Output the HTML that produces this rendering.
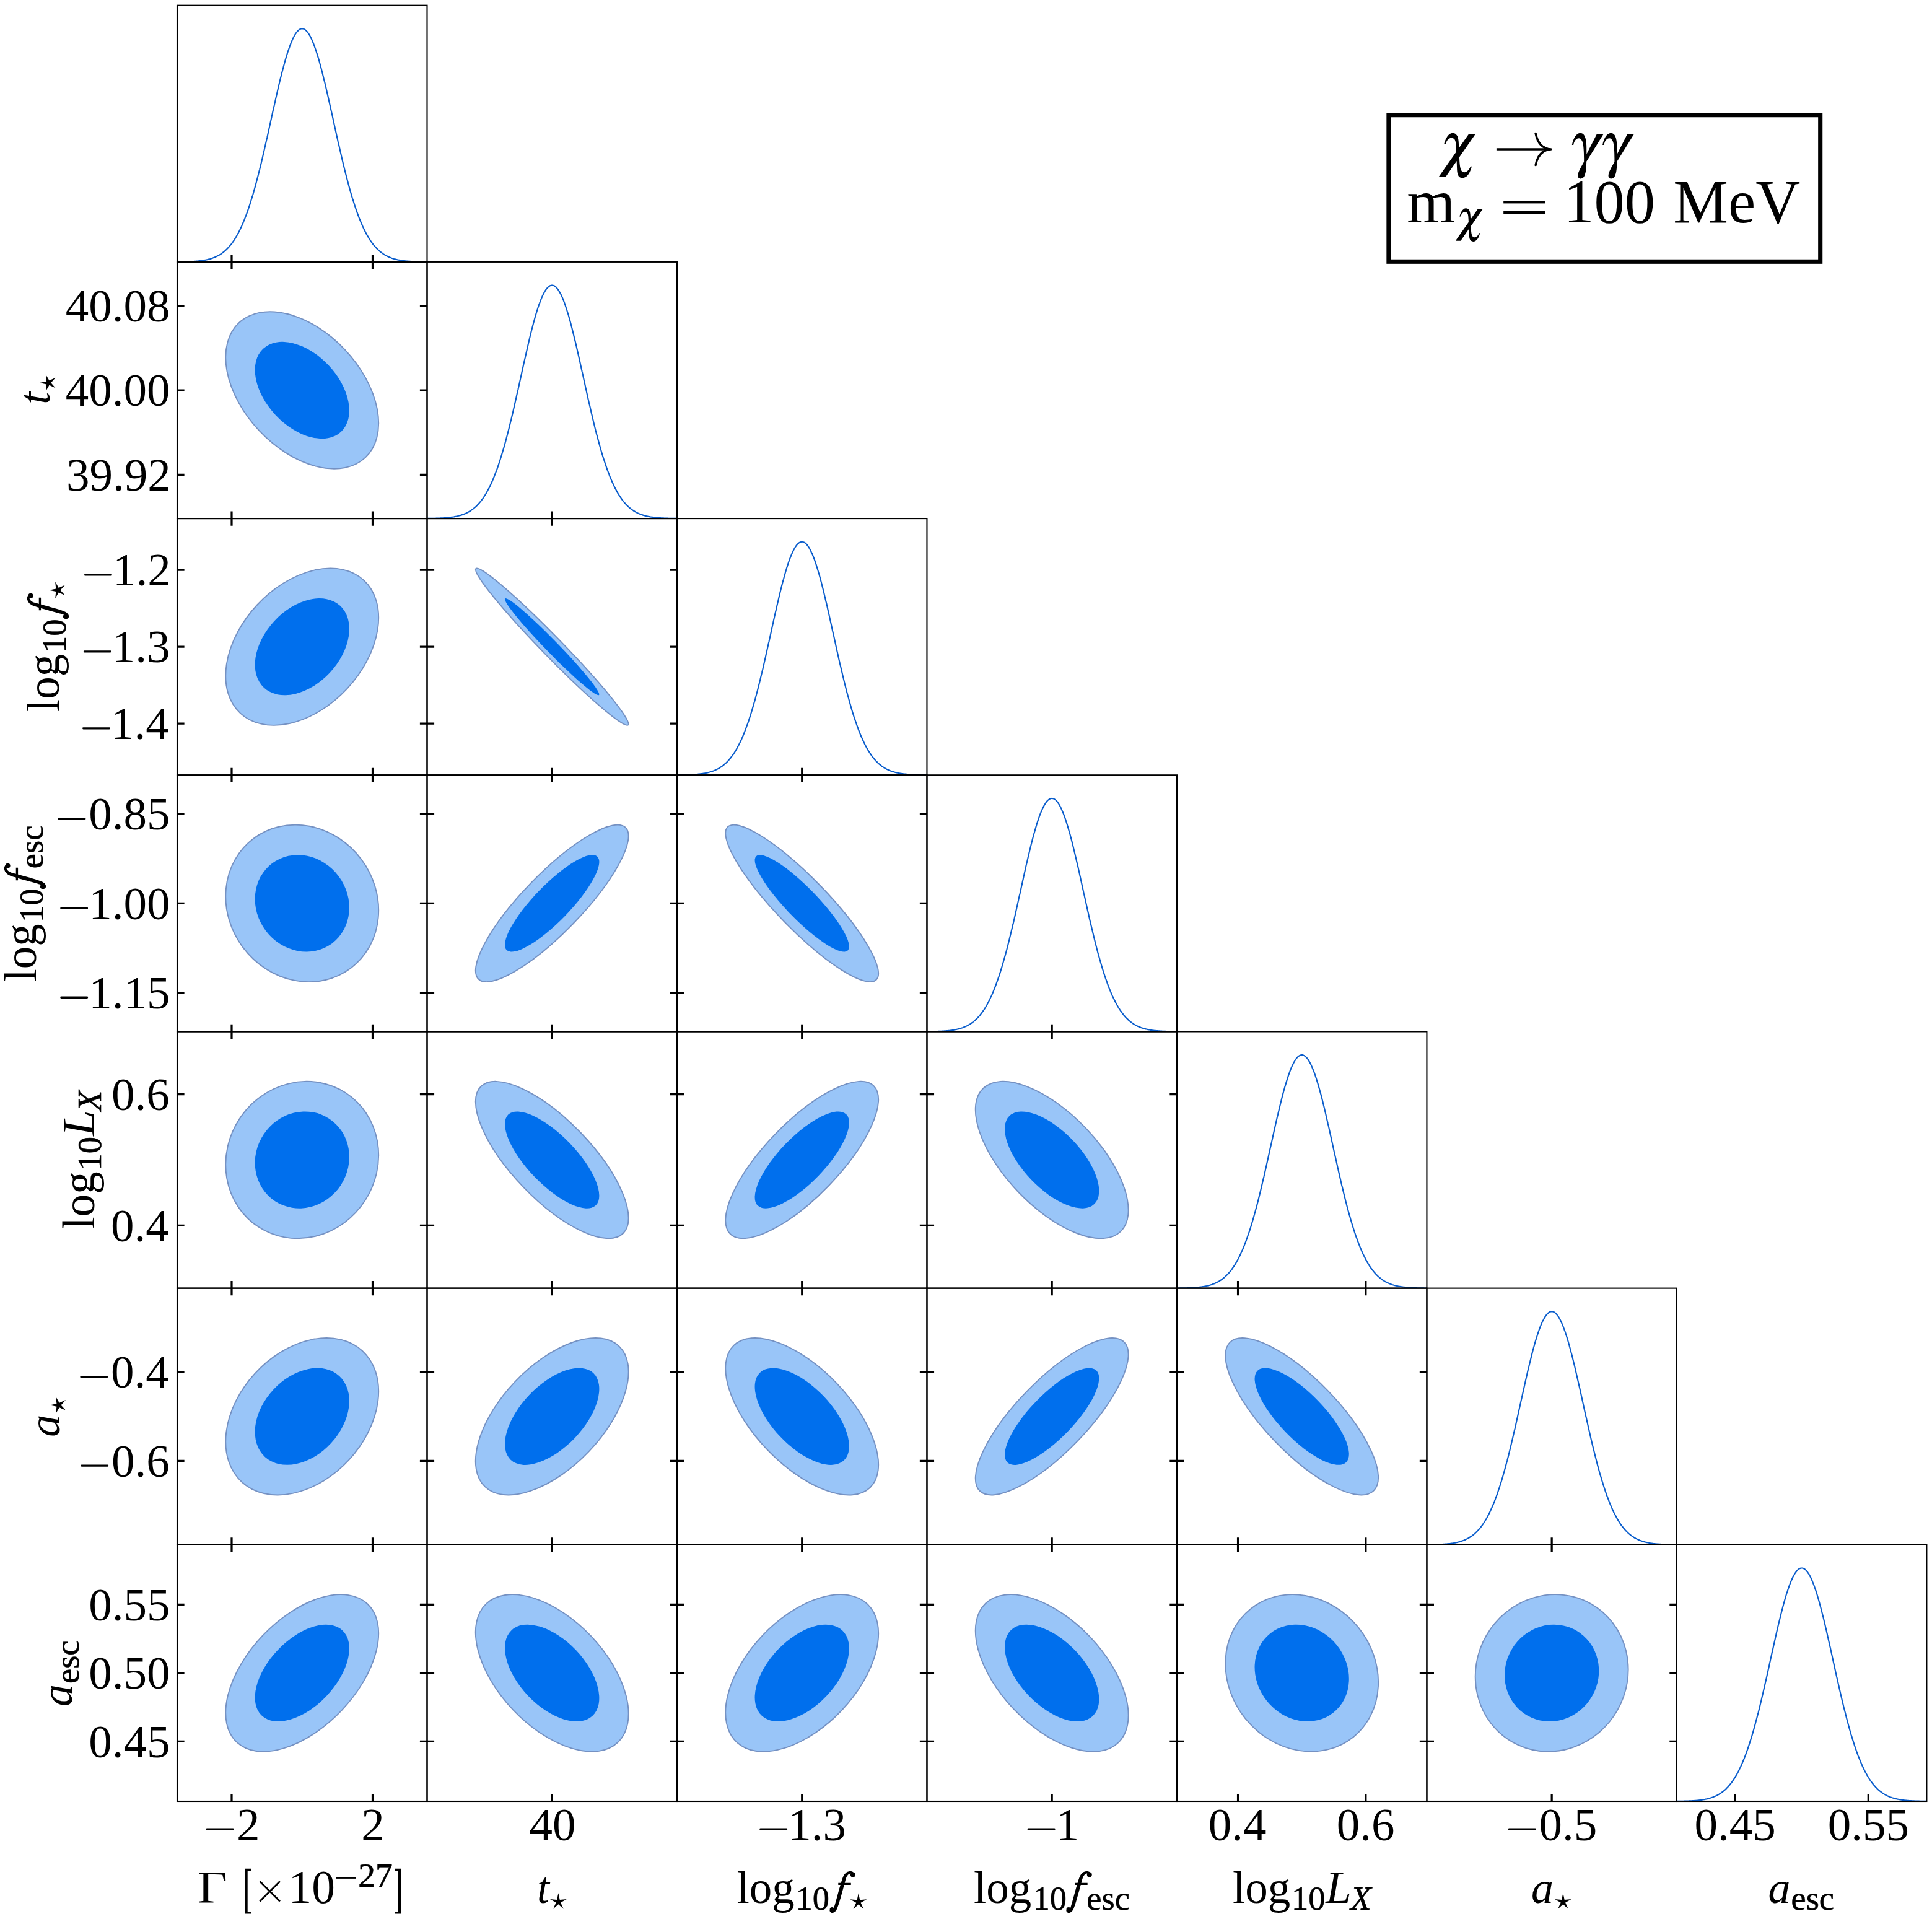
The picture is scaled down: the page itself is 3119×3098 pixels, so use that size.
<!DOCTYPE html><html><head><meta charset="utf-8"><style>html,body{margin:0;padding:0;background:#fff;width:3119px;height:3098px;overflow:hidden}svg{display:block}text{font-family:"Liberation Serif",serif;fill:#000}</style></head><body>
<svg width="3119" height="3098" viewBox="0 0 3119 3098">
<rect width="3119" height="3098" fill="#fff"/>
<clipPath id="c0"><rect x="286.00" y="8.70" width="403.49" height="414.19"/></clipPath>
<polyline clip-path="url(#c0)" fill="none" stroke="#0a5dcc" stroke-width="2.15" stroke-linejoin="round" points="286.0,422.76 286.8,422.75 287.6,422.74 288.4,422.73 289.2,422.72 290.0,422.71 290.8,422.70 291.6,422.69 292.5,422.68 293.3,422.66 294.1,422.65 294.9,422.63 295.7,422.62 296.5,422.60 297.3,422.58 298.1,422.57 298.9,422.55 299.7,422.52 300.5,422.50 301.3,422.48 302.1,422.45 302.9,422.43 303.8,422.40 304.6,422.37 305.4,422.34 306.2,422.31 307.0,422.27 307.8,422.24 308.6,422.20 309.4,422.16 310.2,422.12 311.0,422.07 311.8,422.03 312.6,421.98 313.4,421.93 314.2,421.87 315.1,421.81 315.9,421.75 316.7,421.69 317.5,421.62 318.3,421.55 319.1,421.48 319.9,421.40 320.7,421.32 321.5,421.24 322.3,421.15 323.1,421.06 323.9,420.96 324.7,420.86 325.5,420.75 326.3,420.64 327.2,420.52 328.0,420.39 328.8,420.26 329.6,420.13 330.4,419.99 331.2,419.84 332.0,419.69 332.8,419.52 333.6,419.36 334.4,419.18 335.2,418.99 336.0,418.80 336.8,418.60 337.6,418.39 338.5,418.17 339.3,417.95 340.1,417.71 340.9,417.46 341.7,417.20 342.5,416.93 343.3,416.65 344.1,416.36 344.9,416.06 345.7,415.74 346.5,415.41 347.3,415.07 348.1,414.72 348.9,414.35 349.8,413.97 350.6,413.57 351.4,413.16 352.2,412.73 353.0,412.28 353.8,411.82 354.6,411.34 355.4,410.84 356.2,410.33 357.0,409.80 357.8,409.24 358.6,408.67 359.4,408.08 360.2,407.47 361.0,406.83 361.9,406.18 362.7,405.50 363.5,404.80 364.3,404.07 365.1,403.32 365.9,402.55 366.7,401.75 367.5,400.92 368.3,400.07 369.1,399.20 369.9,398.29 370.7,397.36 371.5,396.39 372.3,395.40 373.2,394.38 374.0,393.33 374.8,392.25 375.6,391.13 376.4,389.99 377.2,388.81 378.0,387.60 378.8,386.35 379.6,385.07 380.4,383.76 381.2,382.41 382.0,381.02 382.8,379.60 383.6,378.14 384.5,376.65 385.3,375.11 386.1,373.54 386.9,371.93 387.7,370.28 388.5,368.59 389.3,366.86 390.1,365.09 390.9,363.28 391.7,361.43 392.5,359.53 393.3,357.60 394.1,355.62 394.9,353.60 395.7,351.54 396.6,349.44 397.4,347.29 398.2,345.10 399.0,342.87 399.8,340.60 400.6,338.28 401.4,335.92 402.2,333.51 403.0,331.07 403.8,328.58 404.6,326.05 405.4,323.47 406.2,320.85 407.0,318.20 407.9,315.49 408.7,312.75 409.5,309.97 410.3,307.14 411.1,304.28 411.9,301.38 412.7,298.43 413.5,295.45 414.3,292.43 415.1,289.37 415.9,286.28 416.7,283.15 417.5,279.98 418.3,276.78 419.2,273.55 420.0,270.28 420.8,266.99 421.6,263.66 422.4,260.30 423.2,256.92 424.0,253.50 424.8,250.07 425.6,246.60 426.4,243.12 427.2,239.61 428.0,236.08 428.8,232.53 429.6,228.96 430.4,225.38 431.3,221.79 432.1,218.18 432.9,214.55 433.7,210.92 434.5,207.28 435.3,203.64 436.1,199.99 436.9,196.33 437.7,192.68 438.5,189.03 439.3,185.38 440.1,181.73 440.9,178.09 441.7,174.46 442.6,170.84 443.4,167.24 444.2,163.65 445.0,160.07 445.8,156.51 446.6,152.98 447.4,149.47 448.2,145.98 449.0,142.52 449.8,139.09 450.6,135.69 451.4,132.33 452.2,129.00 453.0,125.71 453.9,122.46 454.7,119.25 455.5,116.08 456.3,112.97 457.1,109.90 457.9,106.88 458.7,103.91 459.5,101.00 460.3,98.14 461.1,95.35 461.9,92.61 462.7,89.93 463.5,87.32 464.3,84.78 465.1,82.30 466.0,79.90 466.8,77.56 467.6,75.30 468.4,73.12 469.2,71.00 470.0,68.97 470.8,67.02 471.6,65.15 472.4,63.36 473.2,61.65 474.0,60.03 474.8,58.49 475.6,57.04 476.4,55.68 477.3,54.41 478.1,53.23 478.9,52.14 479.7,51.14 480.5,50.24 481.3,49.43 482.1,48.71 482.9,48.08 483.7,47.56 484.5,47.12 485.3,46.79 486.1,46.55 486.9,46.40 487.7,46.35 488.5,46.40 489.4,46.55 490.2,46.79 491.0,47.12 491.8,47.56 492.6,48.08 493.4,48.71 494.2,49.43 495.0,50.24 495.8,51.14 496.6,52.14 497.4,53.23 498.2,54.41 499.0,55.68 499.8,57.04 500.7,58.49 501.5,60.03 502.3,61.65 503.1,63.36 503.9,65.15 504.7,67.02 505.5,68.97 506.3,71.00 507.1,73.12 507.9,75.30 508.7,77.56 509.5,79.90 510.3,82.30 511.1,84.78 512.0,87.32 512.8,89.93 513.6,92.61 514.4,95.35 515.2,98.14 516.0,101.00 516.8,103.91 517.6,106.88 518.4,109.90 519.2,112.97 520.0,116.08 520.8,119.25 521.6,122.46 522.4,125.71 523.2,129.00 524.1,132.33 524.9,135.69 525.7,139.09 526.5,142.52 527.3,145.98 528.1,149.47 528.9,152.98 529.7,156.51 530.5,160.07 531.3,163.65 532.1,167.24 532.9,170.84 533.7,174.46 534.5,178.09 535.4,181.73 536.2,185.38 537.0,189.03 537.8,192.68 538.6,196.33 539.4,199.99 540.2,203.64 541.0,207.28 541.8,210.92 542.6,214.55 543.4,218.18 544.2,221.79 545.0,225.38 545.8,228.96 546.7,232.53 547.5,236.08 548.3,239.61 549.1,243.12 549.9,246.60 550.7,250.07 551.5,253.50 552.3,256.92 553.1,260.30 553.9,263.66 554.7,266.99 555.5,270.28 556.3,273.55 557.1,276.78 557.9,279.98 558.8,283.15 559.6,286.28 560.4,289.37 561.2,292.43 562.0,295.45 562.8,298.43 563.6,301.38 564.4,304.28 565.2,307.14 566.0,309.97 566.8,312.75 567.6,315.49 568.4,318.20 569.2,320.85 570.1,323.47 570.9,326.05 571.7,328.58 572.5,331.07 573.3,333.51 574.1,335.92 574.9,338.28 575.7,340.60 576.5,342.87 577.3,345.10 578.1,347.29 578.9,349.44 579.7,351.54 580.5,353.60 581.4,355.62 582.2,357.60 583.0,359.53 583.8,361.43 584.6,363.28 585.4,365.09 586.2,366.86 587.0,368.59 587.8,370.28 588.6,371.93 589.4,373.54 590.2,375.11 591.0,376.65 591.8,378.14 592.6,379.60 593.5,381.02 594.3,382.41 595.1,383.76 595.9,385.07 596.7,386.35 597.5,387.60 598.3,388.81 599.1,389.99 599.9,391.13 600.7,392.25 601.5,393.33 602.3,394.38 603.1,395.40 603.9,396.39 604.8,397.36 605.6,398.29 606.4,399.20 607.2,400.07 608.0,400.92 608.8,401.75 609.6,402.55 610.4,403.32 611.2,404.07 612.0,404.80 612.8,405.50 613.6,406.18 614.4,406.83 615.2,407.47 616.1,408.08 616.9,408.67 617.7,409.24 618.5,409.80 619.3,410.33 620.1,410.84 620.9,411.34 621.7,411.82 622.5,412.28 623.3,412.73 624.1,413.16 624.9,413.57 625.7,413.97 626.5,414.35 627.3,414.72 628.2,415.07 629.0,415.41 629.8,415.74 630.6,416.06 631.4,416.36 632.2,416.65 633.0,416.93 633.8,417.20 634.6,417.46 635.4,417.71 636.2,417.95 637.0,418.17 637.8,418.39 638.6,418.60 639.5,418.80 640.3,418.99 641.1,419.18 641.9,419.36 642.7,419.52 643.5,419.69 644.3,419.84 645.1,419.99 645.9,420.13 646.7,420.26 647.5,420.39 648.3,420.52 649.1,420.64 649.9,420.75 650.8,420.86 651.6,420.96 652.4,421.06 653.2,421.15 654.0,421.24 654.8,421.32 655.6,421.40 656.4,421.48 657.2,421.55 658.0,421.62 658.8,421.69 659.6,421.75 660.4,421.81 661.2,421.87 662.0,421.93 662.9,421.98 663.7,422.03 664.5,422.07 665.3,422.12 666.1,422.16 666.9,422.20 667.7,422.24 668.5,422.27 669.3,422.31 670.1,422.34 670.9,422.37 671.7,422.40 672.5,422.43 673.3,422.45 674.2,422.48 675.0,422.50 675.8,422.52 676.6,422.55 677.4,422.57 678.2,422.58 679.0,422.60 679.8,422.62 680.6,422.63 681.4,422.65 682.2,422.66 683.0,422.68 683.8,422.69 684.6,422.70 685.5,422.71 686.3,422.72 687.1,422.73 687.9,422.74 688.7,422.75 689.5,422.76"/>
<ellipse cx="487.74" cy="629.98" rx="149.11" ry="95.22" transform="rotate(46.783 487.74 629.98)" fill="#99C5F8" stroke="#7591c2" stroke-width="1.9"/>
<ellipse cx="487.74" cy="629.98" rx="91.96" ry="58.72" transform="rotate(46.783 487.74 629.98)" fill="#006FED"/>
<clipPath id="c1"><rect x="689.49" y="422.89" width="403.49" height="414.19"/></clipPath>
<polyline clip-path="url(#c1)" fill="none" stroke="#0a5dcc" stroke-width="2.15" stroke-linejoin="round" points="689.5,836.95 690.3,836.94 691.1,836.93 691.9,836.92 692.7,836.91 693.5,836.90 694.3,836.89 695.1,836.87 695.9,836.86 696.7,836.85 697.6,836.83 698.4,836.82 699.2,836.80 700.0,836.79 700.8,836.77 701.6,836.75 702.4,836.73 703.2,836.71 704.0,836.69 704.8,836.66 705.6,836.64 706.4,836.61 707.2,836.59 708.0,836.56 708.9,836.53 709.7,836.49 710.5,836.46 711.3,836.42 712.1,836.39 712.9,836.35 713.7,836.30 714.5,836.26 715.3,836.21 716.1,836.16 716.9,836.11 717.7,836.06 718.5,836.00 719.3,835.94 720.2,835.88 721.0,835.81 721.8,835.74 722.6,835.67 723.4,835.59 724.2,835.51 725.0,835.42 725.8,835.34 726.6,835.24 727.4,835.14 728.2,835.04 729.0,834.93 729.8,834.82 730.6,834.70 731.4,834.58 732.3,834.45 733.1,834.32 733.9,834.17 734.7,834.03 735.5,833.87 736.3,833.71 737.1,833.54 737.9,833.36 738.7,833.18 739.5,832.99 740.3,832.79 741.1,832.58 741.9,832.36 742.7,832.13 743.6,831.89 744.4,831.65 745.2,831.39 746.0,831.12 746.8,830.84 747.6,830.55 748.4,830.24 749.2,829.93 750.0,829.60 750.8,829.26 751.6,828.90 752.4,828.54 753.2,828.15 754.0,827.75 754.9,827.34 755.7,826.91 756.5,826.47 757.3,826.01 758.1,825.53 758.9,825.03 759.7,824.52 760.5,823.98 761.3,823.43 762.1,822.86 762.9,822.27 763.7,821.65 764.5,821.02 765.3,820.36 766.1,819.68 767.0,818.98 767.8,818.26 768.6,817.51 769.4,816.73 770.2,815.93 771.0,815.11 771.8,814.26 772.6,813.38 773.4,812.48 774.2,811.54 775.0,810.58 775.8,809.59 776.6,808.57 777.4,807.52 778.3,806.43 779.1,805.32 779.9,804.17 780.7,803.00 781.5,801.78 782.3,800.54 783.1,799.26 783.9,797.94 784.7,796.59 785.5,795.21 786.3,793.79 787.1,792.33 787.9,790.83 788.7,789.30 789.6,787.72 790.4,786.11 791.2,784.46 792.0,782.77 792.8,781.04 793.6,779.27 794.4,777.46 795.2,775.61 796.0,773.72 796.8,771.78 797.6,769.81 798.4,767.79 799.2,765.73 800.0,763.62 800.8,761.48 801.7,759.29 802.5,757.06 803.3,754.78 804.1,752.46 804.9,750.10 805.7,747.70 806.5,745.25 807.3,742.76 808.1,740.23 808.9,737.66 809.7,735.04 810.5,732.38 811.3,729.68 812.1,726.94 813.0,724.15 813.8,721.33 814.6,718.47 815.4,715.56 816.2,712.62 817.0,709.64 817.8,706.62 818.6,703.56 819.4,700.46 820.2,697.33 821.0,694.17 821.8,690.97 822.6,687.73 823.4,684.47 824.2,681.17 825.1,677.84 825.9,674.49 826.7,671.10 827.5,667.69 828.3,664.25 829.1,660.79 829.9,657.30 830.7,653.79 831.5,650.26 832.3,646.72 833.1,643.15 833.9,639.57 834.7,635.97 835.5,632.36 836.4,628.74 837.2,625.11 838.0,621.47 838.8,617.82 839.6,614.17 840.4,610.52 841.2,606.87 842.0,603.21 842.8,599.56 843.6,595.92 844.4,592.28 845.2,588.65 846.0,585.03 846.8,581.42 847.7,577.83 848.5,574.26 849.3,570.70 850.1,567.16 850.9,563.65 851.7,560.17 852.5,556.71 853.3,553.28 854.1,549.88 854.9,546.51 855.7,543.18 856.5,539.89 857.3,536.64 858.1,533.43 858.9,530.27 859.8,527.15 860.6,524.08 861.4,521.06 862.2,518.10 863.0,515.18 863.8,512.33 864.6,509.53 865.4,506.79 866.2,504.12 867.0,501.51 867.8,498.97 868.6,496.49 869.4,494.08 870.2,491.75 871.1,489.49 871.9,487.30 872.7,485.19 873.5,483.16 874.3,481.20 875.1,479.33 875.9,477.54 876.7,475.84 877.5,474.21 878.3,472.68 879.1,471.23 879.9,469.87 880.7,468.60 881.5,467.42 882.4,466.33 883.2,465.33 884.0,464.42 884.8,463.61 885.6,462.89 886.4,462.27 887.2,461.74 888.0,461.31 888.8,460.97 889.6,460.73 890.4,460.59 891.2,460.54 892.0,460.59 892.8,460.73 893.6,460.97 894.5,461.31 895.3,461.74 896.1,462.27 896.9,462.89 897.7,463.61 898.5,464.42 899.3,465.33 900.1,466.33 900.9,467.42 901.7,468.60 902.5,469.87 903.3,471.23 904.1,472.68 904.9,474.21 905.8,475.84 906.6,477.54 907.4,479.33 908.2,481.20 909.0,483.16 909.8,485.19 910.6,487.30 911.4,489.49 912.2,491.75 913.0,494.08 913.8,496.49 914.6,498.97 915.4,501.51 916.2,504.12 917.1,506.79 917.9,509.53 918.7,512.33 919.5,515.18 920.3,518.10 921.1,521.06 921.9,524.08 922.7,527.15 923.5,530.27 924.3,533.43 925.1,536.64 925.9,539.89 926.7,543.18 927.5,546.51 928.3,549.88 929.2,553.28 930.0,556.71 930.8,560.17 931.6,563.65 932.4,567.16 933.2,570.70 934.0,574.26 934.8,577.83 935.6,581.42 936.4,585.03 937.2,588.65 938.0,592.28 938.8,595.92 939.6,599.56 940.5,603.21 941.3,606.87 942.1,610.52 942.9,614.17 943.7,617.82 944.5,621.47 945.3,625.11 946.1,628.74 946.9,632.36 947.7,635.97 948.5,639.57 949.3,643.15 950.1,646.72 950.9,650.26 951.8,653.79 952.6,657.30 953.4,660.79 954.2,664.25 955.0,667.69 955.8,671.10 956.6,674.49 957.4,677.84 958.2,681.17 959.0,684.47 959.8,687.73 960.6,690.97 961.4,694.17 962.2,697.33 963.0,700.46 963.9,703.56 964.7,706.62 965.5,709.64 966.3,712.62 967.1,715.56 967.9,718.47 968.7,721.33 969.5,724.15 970.3,726.94 971.1,729.68 971.9,732.38 972.7,735.04 973.5,737.66 974.3,740.23 975.2,742.76 976.0,745.25 976.8,747.70 977.6,750.10 978.4,752.46 979.2,754.78 980.0,757.06 980.8,759.29 981.6,761.48 982.4,763.62 983.2,765.73 984.0,767.79 984.8,769.81 985.6,771.78 986.5,773.72 987.3,775.61 988.1,777.46 988.9,779.27 989.7,781.04 990.5,782.77 991.3,784.46 992.1,786.11 992.9,787.72 993.7,789.30 994.5,790.83 995.3,792.33 996.1,793.79 996.9,795.21 997.7,796.59 998.6,797.94 999.4,799.26 1000.2,800.54 1001.0,801.78 1001.8,803.00 1002.6,804.17 1003.4,805.32 1004.2,806.43 1005.0,807.52 1005.8,808.57 1006.6,809.59 1007.4,810.58 1008.2,811.54 1009.0,812.48 1009.9,813.38 1010.7,814.26 1011.5,815.11 1012.3,815.93 1013.1,816.73 1013.9,817.51 1014.7,818.26 1015.5,818.98 1016.3,819.68 1017.1,820.36 1017.9,821.02 1018.7,821.65 1019.5,822.27 1020.3,822.86 1021.2,823.43 1022.0,823.98 1022.8,824.52 1023.6,825.03 1024.4,825.53 1025.2,826.01 1026.0,826.47 1026.8,826.91 1027.6,827.34 1028.4,827.75 1029.2,828.15 1030.0,828.54 1030.8,828.90 1031.6,829.26 1032.4,829.60 1033.3,829.93 1034.1,830.24 1034.9,830.55 1035.7,830.84 1036.5,831.12 1037.3,831.39 1038.1,831.65 1038.9,831.89 1039.7,832.13 1040.5,832.36 1041.3,832.58 1042.1,832.79 1042.9,832.99 1043.7,833.18 1044.6,833.36 1045.4,833.54 1046.2,833.71 1047.0,833.87 1047.8,834.03 1048.6,834.17 1049.4,834.32 1050.2,834.45 1051.0,834.58 1051.8,834.70 1052.6,834.82 1053.4,834.93 1054.2,835.04 1055.0,835.14 1055.9,835.24 1056.7,835.34 1057.5,835.42 1058.3,835.51 1059.1,835.59 1059.9,835.67 1060.7,835.74 1061.5,835.81 1062.3,835.88 1063.1,835.94 1063.9,836.00 1064.7,836.06 1065.5,836.11 1066.3,836.16 1067.1,836.21 1068.0,836.26 1068.8,836.30 1069.6,836.35 1070.4,836.39 1071.2,836.42 1072.0,836.46 1072.8,836.49 1073.6,836.53 1074.4,836.56 1075.2,836.59 1076.0,836.61 1076.8,836.64 1077.6,836.66 1078.4,836.69 1079.3,836.71 1080.1,836.73 1080.9,836.75 1081.7,836.77 1082.5,836.79 1083.3,836.80 1084.1,836.82 1084.9,836.83 1085.7,836.85 1086.5,836.86 1087.3,836.87 1088.1,836.89 1088.9,836.90 1089.7,836.91 1090.6,836.92 1091.4,836.93 1092.2,836.94 1093.0,836.95"/>
<ellipse cx="487.74" cy="1044.16" rx="146.47" ry="99.23" transform="rotate(132.977 487.74 1044.16)" fill="#99C5F8" stroke="#7591c2" stroke-width="1.9"/>
<ellipse cx="487.74" cy="1044.16" rx="90.33" ry="61.20" transform="rotate(132.977 487.74 1044.16)" fill="#006FED"/>
<ellipse cx="891.23" cy="1044.16" rx="176.19" ry="16.06" transform="rotate(45.762 891.23 1044.16)" fill="#99C5F8" stroke="#7591c2" stroke-width="1.9"/>
<ellipse cx="891.23" cy="1044.16" rx="108.66" ry="9.91" transform="rotate(45.762 891.23 1044.16)" fill="#006FED"/>
<clipPath id="c2"><rect x="1092.97" y="837.07" width="403.49" height="414.19"/></clipPath>
<polyline clip-path="url(#c2)" fill="none" stroke="#0a5dcc" stroke-width="2.15" stroke-linejoin="round" points="1093.0,1251.13 1093.8,1251.12 1094.6,1251.11 1095.4,1251.10 1096.2,1251.09 1097.0,1251.08 1097.8,1251.07 1098.6,1251.06 1099.4,1251.05 1100.2,1251.03 1101.0,1251.02 1101.8,1251.01 1102.7,1250.99 1103.5,1250.97 1104.3,1250.96 1105.1,1250.94 1105.9,1250.92 1106.7,1250.90 1107.5,1250.87 1108.3,1250.85 1109.1,1250.83 1109.9,1250.80 1110.7,1250.77 1111.5,1250.74 1112.3,1250.71 1113.1,1250.68 1114.0,1250.65 1114.8,1250.61 1115.6,1250.57 1116.4,1250.53 1117.2,1250.49 1118.0,1250.44 1118.8,1250.40 1119.6,1250.35 1120.4,1250.30 1121.2,1250.24 1122.0,1250.19 1122.8,1250.13 1123.6,1250.06 1124.4,1250.00 1125.3,1249.93 1126.1,1249.85 1126.9,1249.78 1127.7,1249.69 1128.5,1249.61 1129.3,1249.52 1130.1,1249.43 1130.9,1249.33 1131.7,1249.23 1132.5,1249.12 1133.3,1249.01 1134.1,1248.89 1134.9,1248.77 1135.7,1248.64 1136.5,1248.50 1137.4,1248.36 1138.2,1248.21 1139.0,1248.06 1139.8,1247.90 1140.6,1247.73 1141.4,1247.55 1142.2,1247.37 1143.0,1247.17 1143.8,1246.97 1144.6,1246.76 1145.4,1246.54 1146.2,1246.32 1147.0,1246.08 1147.8,1245.83 1148.7,1245.57 1149.5,1245.30 1150.3,1245.02 1151.1,1244.73 1151.9,1244.43 1152.7,1244.11 1153.5,1243.79 1154.3,1243.45 1155.1,1243.09 1155.9,1242.72 1156.7,1242.34 1157.5,1241.94 1158.3,1241.53 1159.1,1241.10 1160.0,1240.65 1160.8,1240.19 1161.6,1239.71 1162.4,1239.22 1163.2,1238.70 1164.0,1238.17 1164.8,1237.62 1165.6,1237.04 1166.4,1236.45 1167.2,1235.84 1168.0,1235.20 1168.8,1234.55 1169.6,1233.87 1170.4,1233.17 1171.2,1232.44 1172.1,1231.69 1172.9,1230.92 1173.7,1230.12 1174.5,1229.30 1175.3,1228.45 1176.1,1227.57 1176.9,1226.66 1177.7,1225.73 1178.5,1224.77 1179.3,1223.78 1180.1,1222.75 1180.9,1221.70 1181.7,1220.62 1182.5,1219.51 1183.4,1218.36 1184.2,1217.18 1185.0,1215.97 1185.8,1214.72 1186.6,1213.44 1187.4,1212.13 1188.2,1210.78 1189.0,1209.39 1189.8,1207.97 1190.6,1206.51 1191.4,1205.02 1192.2,1203.48 1193.0,1201.91 1193.8,1200.30 1194.6,1198.65 1195.5,1196.96 1196.3,1195.23 1197.1,1193.46 1197.9,1191.65 1198.7,1189.80 1199.5,1187.90 1200.3,1185.97 1201.1,1183.99 1201.9,1181.97 1202.7,1179.91 1203.5,1177.81 1204.3,1175.66 1205.1,1173.47 1205.9,1171.24 1206.8,1168.97 1207.6,1166.65 1208.4,1164.29 1209.2,1161.89 1210.0,1159.44 1210.8,1156.95 1211.6,1154.42 1212.4,1151.84 1213.2,1149.23 1214.0,1146.57 1214.8,1143.87 1215.6,1141.12 1216.4,1138.34 1217.2,1135.52 1218.1,1132.65 1218.9,1129.75 1219.7,1126.80 1220.5,1123.82 1221.3,1120.80 1222.1,1117.74 1222.9,1114.65 1223.7,1111.52 1224.5,1108.35 1225.3,1105.15 1226.1,1101.92 1226.9,1098.65 1227.7,1095.36 1228.5,1092.03 1229.3,1088.67 1230.2,1085.29 1231.0,1081.88 1231.8,1078.44 1232.6,1074.97 1233.4,1071.49 1234.2,1067.98 1235.0,1064.45 1235.8,1060.90 1236.6,1057.34 1237.4,1053.75 1238.2,1050.16 1239.0,1046.55 1239.8,1042.93 1240.6,1039.29 1241.5,1035.65 1242.3,1032.01 1243.1,1028.36 1243.9,1024.71 1244.7,1021.05 1245.5,1017.40 1246.3,1013.75 1247.1,1010.10 1247.9,1006.46 1248.7,1002.83 1249.5,999.22 1250.3,995.61 1251.1,992.02 1251.9,988.44 1252.8,984.89 1253.6,981.35 1254.4,977.84 1255.2,974.35 1256.0,970.89 1256.8,967.46 1257.6,964.06 1258.4,960.70 1259.2,957.37 1260.0,954.08 1260.8,950.83 1261.6,947.62 1262.4,944.45 1263.2,941.34 1264.0,938.27 1264.9,935.25 1265.7,932.28 1266.5,929.37 1267.3,926.51 1268.1,923.72 1268.9,920.98 1269.7,918.31 1270.5,915.70 1271.3,913.15 1272.1,910.68 1272.9,908.27 1273.7,905.94 1274.5,903.67 1275.3,901.49 1276.2,899.38 1277.0,897.34 1277.8,895.39 1278.6,893.52 1279.4,891.73 1280.2,890.02 1281.0,888.40 1281.8,886.86 1282.6,885.41 1283.4,884.05 1284.2,882.78 1285.0,881.60 1285.8,880.51 1286.6,879.51 1287.5,878.61 1288.3,877.80 1289.1,877.08 1289.9,876.46 1290.7,875.93 1291.5,875.50 1292.3,875.16 1293.1,874.92 1293.9,874.77 1294.7,874.72 1295.5,874.77 1296.3,874.92 1297.1,875.16 1297.9,875.50 1298.7,875.93 1299.6,876.46 1300.4,877.08 1301.2,877.80 1302.0,878.61 1302.8,879.51 1303.6,880.51 1304.4,881.60 1305.2,882.78 1306.0,884.05 1306.8,885.41 1307.6,886.86 1308.4,888.40 1309.2,890.02 1310.0,891.73 1310.9,893.52 1311.7,895.39 1312.5,897.34 1313.3,899.38 1314.1,901.49 1314.9,903.67 1315.7,905.94 1316.5,908.27 1317.3,910.68 1318.1,913.15 1318.9,915.70 1319.7,918.31 1320.5,920.98 1321.3,923.72 1322.2,926.51 1323.0,929.37 1323.8,932.28 1324.6,935.25 1325.4,938.27 1326.2,941.34 1327.0,944.45 1327.8,947.62 1328.6,950.83 1329.4,954.08 1330.2,957.37 1331.0,960.70 1331.8,964.06 1332.6,967.46 1333.4,970.89 1334.3,974.35 1335.1,977.84 1335.9,981.35 1336.7,984.89 1337.5,988.44 1338.3,992.02 1339.1,995.61 1339.9,999.22 1340.7,1002.83 1341.5,1006.46 1342.3,1010.10 1343.1,1013.75 1343.9,1017.40 1344.7,1021.05 1345.6,1024.71 1346.4,1028.36 1347.2,1032.01 1348.0,1035.65 1348.8,1039.29 1349.6,1042.93 1350.4,1046.55 1351.2,1050.16 1352.0,1053.75 1352.8,1057.34 1353.6,1060.90 1354.4,1064.45 1355.2,1067.98 1356.0,1071.49 1356.9,1074.97 1357.7,1078.44 1358.5,1081.88 1359.3,1085.29 1360.1,1088.67 1360.9,1092.03 1361.7,1095.36 1362.5,1098.65 1363.3,1101.92 1364.1,1105.15 1364.9,1108.35 1365.7,1111.52 1366.5,1114.65 1367.3,1117.74 1368.1,1120.80 1369.0,1123.82 1369.8,1126.80 1370.6,1129.75 1371.4,1132.65 1372.2,1135.52 1373.0,1138.34 1373.8,1141.12 1374.6,1143.87 1375.4,1146.57 1376.2,1149.23 1377.0,1151.84 1377.8,1154.42 1378.6,1156.95 1379.4,1159.44 1380.3,1161.89 1381.1,1164.29 1381.9,1166.65 1382.7,1168.97 1383.5,1171.24 1384.3,1173.47 1385.1,1175.66 1385.9,1177.81 1386.7,1179.91 1387.5,1181.97 1388.3,1183.99 1389.1,1185.97 1389.9,1187.90 1390.7,1189.80 1391.6,1191.65 1392.4,1193.46 1393.2,1195.23 1394.0,1196.96 1394.8,1198.65 1395.6,1200.30 1396.4,1201.91 1397.2,1203.48 1398.0,1205.02 1398.8,1206.51 1399.6,1207.97 1400.4,1209.39 1401.2,1210.78 1402.0,1212.13 1402.8,1213.44 1403.7,1214.72 1404.5,1215.97 1405.3,1217.18 1406.1,1218.36 1406.9,1219.51 1407.7,1220.62 1408.5,1221.70 1409.3,1222.75 1410.1,1223.78 1410.9,1224.77 1411.7,1225.73 1412.5,1226.66 1413.3,1227.57 1414.1,1228.45 1415.0,1229.30 1415.8,1230.12 1416.6,1230.92 1417.4,1231.69 1418.2,1232.44 1419.0,1233.17 1419.8,1233.87 1420.6,1234.55 1421.4,1235.20 1422.2,1235.84 1423.0,1236.45 1423.8,1237.04 1424.6,1237.62 1425.4,1238.17 1426.3,1238.70 1427.1,1239.22 1427.9,1239.71 1428.7,1240.19 1429.5,1240.65 1430.3,1241.10 1431.1,1241.53 1431.9,1241.94 1432.7,1242.34 1433.5,1242.72 1434.3,1243.09 1435.1,1243.45 1435.9,1243.79 1436.7,1244.11 1437.5,1244.43 1438.4,1244.73 1439.2,1245.02 1440.0,1245.30 1440.8,1245.57 1441.6,1245.83 1442.4,1246.08 1443.2,1246.32 1444.0,1246.54 1444.8,1246.76 1445.6,1246.97 1446.4,1247.17 1447.2,1247.37 1448.0,1247.55 1448.8,1247.73 1449.7,1247.90 1450.5,1248.06 1451.3,1248.21 1452.1,1248.36 1452.9,1248.50 1453.7,1248.64 1454.5,1248.77 1455.3,1248.89 1456.1,1249.01 1456.9,1249.12 1457.7,1249.23 1458.5,1249.33 1459.3,1249.43 1460.1,1249.52 1461.0,1249.61 1461.8,1249.69 1462.6,1249.78 1463.4,1249.85 1464.2,1249.93 1465.0,1250.00 1465.8,1250.06 1466.6,1250.13 1467.4,1250.19 1468.2,1250.24 1469.0,1250.30 1469.8,1250.35 1470.6,1250.40 1471.4,1250.44 1472.2,1250.49 1473.1,1250.53 1473.9,1250.57 1474.7,1250.61 1475.5,1250.65 1476.3,1250.68 1477.1,1250.71 1477.9,1250.74 1478.7,1250.77 1479.5,1250.80 1480.3,1250.83 1481.1,1250.85 1481.9,1250.87 1482.7,1250.90 1483.5,1250.92 1484.4,1250.94 1485.2,1250.96 1486.0,1250.97 1486.8,1250.99 1487.6,1251.01 1488.4,1251.02 1489.2,1251.03 1490.0,1251.05 1490.8,1251.06 1491.6,1251.07 1492.4,1251.08 1493.2,1251.09 1494.0,1251.10 1494.8,1251.11 1495.7,1251.12 1496.5,1251.13"/>
<ellipse cx="487.74" cy="1458.35" rx="130.83" ry="119.10" transform="rotate(53.108 487.74 1458.35)" fill="#99C5F8" stroke="#7591c2" stroke-width="1.9"/>
<ellipse cx="487.74" cy="1458.35" rx="80.69" ry="73.45" transform="rotate(53.108 487.74 1458.35)" fill="#006FED"/>
<ellipse cx="891.23" cy="1458.35" rx="170.48" ry="47.29" transform="rotate(134.125 891.23 1458.35)" fill="#99C5F8" stroke="#7591c2" stroke-width="1.9"/>
<ellipse cx="891.23" cy="1458.35" rx="105.14" ry="29.17" transform="rotate(134.125 891.23 1458.35)" fill="#006FED"/>
<ellipse cx="1294.71" cy="1458.35" rx="172.08" ry="41.10" transform="rotate(45.840 1294.71 1458.35)" fill="#99C5F8" stroke="#7591c2" stroke-width="1.9"/>
<ellipse cx="1294.71" cy="1458.35" rx="106.13" ry="25.35" transform="rotate(45.840 1294.71 1458.35)" fill="#006FED"/>
<clipPath id="c3"><rect x="1496.46" y="1251.26" width="403.49" height="414.19"/></clipPath>
<polyline clip-path="url(#c3)" fill="none" stroke="#0a5dcc" stroke-width="2.15" stroke-linejoin="round" points="1496.5,1665.32 1497.3,1665.31 1498.1,1665.30 1498.9,1665.29 1499.7,1665.28 1500.5,1665.27 1501.3,1665.26 1502.1,1665.25 1502.9,1665.23 1503.7,1665.22 1504.5,1665.21 1505.3,1665.19 1506.1,1665.18 1506.9,1665.16 1507.8,1665.14 1508.6,1665.12 1509.4,1665.10 1510.2,1665.08 1511.0,1665.06 1511.8,1665.04 1512.6,1665.01 1513.4,1664.99 1514.2,1664.96 1515.0,1664.93 1515.8,1664.90 1516.6,1664.87 1517.4,1664.83 1518.2,1664.80 1519.1,1664.76 1519.9,1664.72 1520.7,1664.68 1521.5,1664.63 1522.3,1664.58 1523.1,1664.53 1523.9,1664.48 1524.7,1664.43 1525.5,1664.37 1526.3,1664.31 1527.1,1664.25 1527.9,1664.18 1528.7,1664.11 1529.5,1664.04 1530.3,1663.96 1531.2,1663.88 1532.0,1663.80 1532.8,1663.71 1533.6,1663.61 1534.4,1663.52 1535.2,1663.41 1536.0,1663.31 1536.8,1663.19 1537.6,1663.07 1538.4,1662.95 1539.2,1662.82 1540.0,1662.69 1540.8,1662.55 1541.6,1662.40 1542.5,1662.24 1543.3,1662.08 1544.1,1661.91 1544.9,1661.74 1545.7,1661.55 1546.5,1661.36 1547.3,1661.16 1548.1,1660.95 1548.9,1660.73 1549.7,1660.50 1550.5,1660.26 1551.3,1660.02 1552.1,1659.76 1552.9,1659.49 1553.8,1659.21 1554.6,1658.92 1555.4,1658.62 1556.2,1658.30 1557.0,1657.97 1557.8,1657.63 1558.6,1657.28 1559.4,1656.91 1560.2,1656.52 1561.0,1656.13 1561.8,1655.71 1562.6,1655.28 1563.4,1654.84 1564.2,1654.38 1565.0,1653.90 1565.9,1653.40 1566.7,1652.89 1567.5,1652.35 1568.3,1651.80 1569.1,1651.23 1569.9,1650.64 1570.7,1650.02 1571.5,1649.39 1572.3,1648.73 1573.1,1648.05 1573.9,1647.35 1574.7,1646.63 1575.5,1645.88 1576.3,1645.11 1577.2,1644.31 1578.0,1643.48 1578.8,1642.63 1579.6,1641.75 1580.4,1640.85 1581.2,1639.91 1582.0,1638.95 1582.8,1637.96 1583.6,1636.94 1584.4,1635.89 1585.2,1634.81 1586.0,1633.69 1586.8,1632.55 1587.6,1631.37 1588.5,1630.16 1589.3,1628.91 1590.1,1627.63 1590.9,1626.32 1591.7,1624.97 1592.5,1623.58 1593.3,1622.16 1594.1,1620.70 1594.9,1619.20 1595.7,1617.67 1596.5,1616.10 1597.3,1614.48 1598.1,1612.83 1598.9,1611.14 1599.7,1609.41 1600.6,1607.64 1601.4,1605.83 1602.2,1603.98 1603.0,1602.09 1603.8,1600.15 1604.6,1598.18 1605.4,1596.16 1606.2,1594.10 1607.0,1592.00 1607.8,1589.85 1608.6,1587.66 1609.4,1585.43 1610.2,1583.15 1611.0,1580.84 1611.9,1578.48 1612.7,1576.07 1613.5,1573.63 1614.3,1571.14 1615.1,1568.60 1615.9,1566.03 1616.7,1563.41 1617.5,1560.75 1618.3,1558.05 1619.1,1555.31 1619.9,1552.53 1620.7,1549.70 1621.5,1546.84 1622.3,1543.93 1623.2,1540.99 1624.0,1538.01 1624.8,1534.99 1625.6,1531.93 1626.4,1528.83 1627.2,1525.70 1628.0,1522.54 1628.8,1519.34 1629.6,1516.11 1630.4,1512.84 1631.2,1509.54 1632.0,1506.22 1632.8,1502.86 1633.6,1499.47 1634.4,1496.06 1635.3,1492.62 1636.1,1489.16 1636.9,1485.67 1637.7,1482.16 1638.5,1478.64 1639.3,1475.09 1640.1,1471.52 1640.9,1467.94 1641.7,1464.34 1642.5,1460.73 1643.3,1457.11 1644.1,1453.48 1644.9,1449.84 1645.7,1446.19 1646.6,1442.54 1647.4,1438.89 1648.2,1435.24 1649.0,1431.58 1649.8,1427.93 1650.6,1424.29 1651.4,1420.65 1652.2,1417.02 1653.0,1413.40 1653.8,1409.79 1654.6,1406.20 1655.4,1402.63 1656.2,1399.07 1657.0,1395.54 1657.9,1392.02 1658.7,1388.54 1659.5,1385.08 1660.3,1381.65 1661.1,1378.25 1661.9,1374.88 1662.7,1371.56 1663.5,1368.26 1664.3,1365.01 1665.1,1361.80 1665.9,1358.64 1666.7,1355.52 1667.5,1352.45 1668.3,1349.43 1669.1,1346.47 1670.0,1343.55 1670.8,1340.70 1671.6,1337.90 1672.4,1335.17 1673.2,1332.49 1674.0,1329.88 1674.8,1327.34 1675.6,1324.86 1676.4,1322.46 1677.2,1320.12 1678.0,1317.86 1678.8,1315.67 1679.6,1313.56 1680.4,1311.53 1681.3,1309.58 1682.1,1307.70 1682.9,1305.91 1683.7,1304.21 1684.5,1302.58 1685.3,1301.05 1686.1,1299.60 1686.9,1298.24 1687.7,1296.97 1688.5,1295.79 1689.3,1294.70 1690.1,1293.70 1690.9,1292.79 1691.7,1291.98 1692.6,1291.26 1693.4,1290.64 1694.2,1290.11 1695.0,1289.68 1695.8,1289.34 1696.6,1289.10 1697.4,1288.96 1698.2,1288.91 1699.0,1288.96 1699.8,1289.10 1700.6,1289.34 1701.4,1289.68 1702.2,1290.11 1703.0,1290.64 1703.8,1291.26 1704.7,1291.98 1705.5,1292.79 1706.3,1293.70 1707.1,1294.70 1707.9,1295.79 1708.7,1296.97 1709.5,1298.24 1710.3,1299.60 1711.1,1301.05 1711.9,1302.58 1712.7,1304.21 1713.5,1305.91 1714.3,1307.70 1715.1,1309.58 1716.0,1311.53 1716.8,1313.56 1717.6,1315.67 1718.4,1317.86 1719.2,1320.12 1720.0,1322.46 1720.8,1324.86 1721.6,1327.34 1722.4,1329.88 1723.2,1332.49 1724.0,1335.17 1724.8,1337.90 1725.6,1340.70 1726.4,1343.55 1727.3,1346.47 1728.1,1349.43 1728.9,1352.45 1729.7,1355.52 1730.5,1358.64 1731.3,1361.80 1732.1,1365.01 1732.9,1368.26 1733.7,1371.56 1734.5,1374.88 1735.3,1378.25 1736.1,1381.65 1736.9,1385.08 1737.7,1388.54 1738.5,1392.02 1739.4,1395.54 1740.2,1399.07 1741.0,1402.63 1741.8,1406.20 1742.6,1409.79 1743.4,1413.40 1744.2,1417.02 1745.0,1420.65 1745.8,1424.29 1746.6,1427.93 1747.4,1431.58 1748.2,1435.24 1749.0,1438.89 1749.8,1442.54 1750.7,1446.19 1751.5,1449.84 1752.3,1453.48 1753.1,1457.11 1753.9,1460.73 1754.7,1464.34 1755.5,1467.94 1756.3,1471.52 1757.1,1475.09 1757.9,1478.64 1758.7,1482.16 1759.5,1485.67 1760.3,1489.16 1761.1,1492.62 1762.0,1496.06 1762.8,1499.47 1763.6,1502.86 1764.4,1506.22 1765.2,1509.54 1766.0,1512.84 1766.8,1516.11 1767.6,1519.34 1768.4,1522.54 1769.2,1525.70 1770.0,1528.83 1770.8,1531.93 1771.6,1534.99 1772.4,1538.01 1773.2,1540.99 1774.1,1543.93 1774.9,1546.84 1775.7,1549.70 1776.5,1552.53 1777.3,1555.31 1778.1,1558.05 1778.9,1560.75 1779.7,1563.41 1780.5,1566.03 1781.3,1568.60 1782.1,1571.14 1782.9,1573.63 1783.7,1576.07 1784.5,1578.48 1785.4,1580.84 1786.2,1583.15 1787.0,1585.43 1787.8,1587.66 1788.6,1589.85 1789.4,1592.00 1790.2,1594.10 1791.0,1596.16 1791.8,1598.18 1792.6,1600.15 1793.4,1602.09 1794.2,1603.98 1795.0,1605.83 1795.8,1607.64 1796.7,1609.41 1797.5,1611.14 1798.3,1612.83 1799.1,1614.48 1799.9,1616.10 1800.7,1617.67 1801.5,1619.20 1802.3,1620.70 1803.1,1622.16 1803.9,1623.58 1804.7,1624.97 1805.5,1626.32 1806.3,1627.63 1807.1,1628.91 1807.9,1630.16 1808.8,1631.37 1809.6,1632.55 1810.4,1633.69 1811.2,1634.81 1812.0,1635.89 1812.8,1636.94 1813.6,1637.96 1814.4,1638.95 1815.2,1639.91 1816.0,1640.85 1816.8,1641.75 1817.6,1642.63 1818.4,1643.48 1819.2,1644.31 1820.1,1645.11 1820.9,1645.88 1821.7,1646.63 1822.5,1647.35 1823.3,1648.05 1824.1,1648.73 1824.9,1649.39 1825.7,1650.02 1826.5,1650.64 1827.3,1651.23 1828.1,1651.80 1828.9,1652.35 1829.7,1652.89 1830.5,1653.40 1831.4,1653.90 1832.2,1654.38 1833.0,1654.84 1833.8,1655.28 1834.6,1655.71 1835.4,1656.13 1836.2,1656.52 1837.0,1656.91 1837.8,1657.28 1838.6,1657.63 1839.4,1657.97 1840.2,1658.30 1841.0,1658.62 1841.8,1658.92 1842.6,1659.21 1843.5,1659.49 1844.3,1659.76 1845.1,1660.02 1845.9,1660.26 1846.7,1660.50 1847.5,1660.73 1848.3,1660.95 1849.1,1661.16 1849.9,1661.36 1850.7,1661.55 1851.5,1661.74 1852.3,1661.91 1853.1,1662.08 1853.9,1662.24 1854.8,1662.40 1855.6,1662.55 1856.4,1662.69 1857.2,1662.82 1858.0,1662.95 1858.8,1663.07 1859.6,1663.19 1860.4,1663.31 1861.2,1663.41 1862.0,1663.52 1862.8,1663.61 1863.6,1663.71 1864.4,1663.80 1865.2,1663.88 1866.1,1663.96 1866.9,1664.04 1867.7,1664.11 1868.5,1664.18 1869.3,1664.25 1870.1,1664.31 1870.9,1664.37 1871.7,1664.43 1872.5,1664.48 1873.3,1664.53 1874.1,1664.58 1874.9,1664.63 1875.7,1664.68 1876.5,1664.72 1877.3,1664.76 1878.2,1664.80 1879.0,1664.83 1879.8,1664.87 1880.6,1664.90 1881.4,1664.93 1882.2,1664.96 1883.0,1664.99 1883.8,1665.01 1884.6,1665.04 1885.4,1665.06 1886.2,1665.08 1887.0,1665.10 1887.8,1665.12 1888.6,1665.14 1889.5,1665.16 1890.3,1665.18 1891.1,1665.19 1891.9,1665.21 1892.7,1665.22 1893.5,1665.23 1894.3,1665.25 1895.1,1665.26 1895.9,1665.27 1896.7,1665.28 1897.5,1665.29 1898.3,1665.30 1899.1,1665.31 1899.9,1665.32"/>
<ellipse cx="487.74" cy="1872.54" rx="129.13" ry="120.94" transform="rotate(123.215 487.74 1872.54)" fill="#99C5F8" stroke="#7591c2" stroke-width="1.9"/>
<ellipse cx="487.74" cy="1872.54" rx="79.64" ry="74.59" transform="rotate(123.215 487.74 1872.54)" fill="#006FED"/>
<ellipse cx="891.23" cy="1872.54" rx="165.03" ry="63.76" transform="rotate(46.013 891.23 1872.54)" fill="#99C5F8" stroke="#7591c2" stroke-width="1.9"/>
<ellipse cx="891.23" cy="1872.54" rx="101.78" ry="39.32" transform="rotate(46.013 891.23 1872.54)" fill="#006FED"/>
<ellipse cx="1294.71" cy="1872.54" rx="166.45" ry="59.97" transform="rotate(134.026 1294.71 1872.54)" fill="#99C5F8" stroke="#7591c2" stroke-width="1.9"/>
<ellipse cx="1294.71" cy="1872.54" rx="102.65" ry="36.99" transform="rotate(134.026 1294.71 1872.54)" fill="#006FED"/>
<ellipse cx="1698.20" cy="1872.54" rx="160.22" ry="75.03" transform="rotate(46.171 1698.20 1872.54)" fill="#99C5F8" stroke="#7591c2" stroke-width="1.9"/>
<ellipse cx="1698.20" cy="1872.54" rx="98.81" ry="46.27" transform="rotate(46.171 1698.20 1872.54)" fill="#006FED"/>
<clipPath id="c4"><rect x="1899.94" y="1665.44" width="403.49" height="414.19"/></clipPath>
<polyline clip-path="url(#c4)" fill="none" stroke="#0a5dcc" stroke-width="2.15" stroke-linejoin="round" points="1899.9,2079.50 1900.7,2079.49 1901.6,2079.49 1902.4,2079.48 1903.2,2079.47 1904.0,2079.46 1904.8,2079.44 1905.6,2079.43 1906.4,2079.42 1907.2,2079.41 1908.0,2079.39 1908.8,2079.38 1909.6,2079.36 1910.4,2079.34 1911.2,2079.33 1912.0,2079.31 1912.9,2079.29 1913.7,2079.27 1914.5,2079.25 1915.3,2079.22 1916.1,2079.20 1916.9,2079.17 1917.7,2079.14 1918.5,2079.11 1919.3,2079.08 1920.1,2079.05 1920.9,2079.02 1921.7,2078.98 1922.5,2078.94 1923.3,2078.90 1924.2,2078.86 1925.0,2078.82 1925.8,2078.77 1926.6,2078.72 1927.4,2078.67 1928.2,2078.61 1929.0,2078.56 1929.8,2078.50 1930.6,2078.43 1931.4,2078.37 1932.2,2078.30 1933.0,2078.22 1933.8,2078.15 1934.6,2078.07 1935.4,2077.98 1936.3,2077.89 1937.1,2077.80 1937.9,2077.70 1938.7,2077.60 1939.5,2077.49 1940.3,2077.38 1941.1,2077.26 1941.9,2077.14 1942.7,2077.01 1943.5,2076.87 1944.3,2076.73 1945.1,2076.58 1945.9,2076.43 1946.7,2076.27 1947.6,2076.10 1948.4,2075.92 1949.2,2075.74 1950.0,2075.54 1950.8,2075.34 1951.6,2075.13 1952.4,2074.92 1953.2,2074.69 1954.0,2074.45 1954.8,2074.20 1955.6,2073.94 1956.4,2073.68 1957.2,2073.40 1958.0,2073.10 1958.9,2072.80 1959.7,2072.49 1960.5,2072.16 1961.3,2071.82 1962.1,2071.46 1962.9,2071.09 1963.7,2070.71 1964.5,2070.31 1965.3,2069.90 1966.1,2069.47 1966.9,2069.02 1967.7,2068.56 1968.5,2068.08 1969.3,2067.59 1970.1,2067.07 1971.0,2066.54 1971.8,2065.99 1972.6,2065.41 1973.4,2064.82 1974.2,2064.21 1975.0,2063.57 1975.8,2062.92 1976.6,2062.24 1977.4,2061.54 1978.2,2060.81 1979.0,2060.06 1979.8,2059.29 1980.6,2058.49 1981.4,2057.67 1982.3,2056.82 1983.1,2055.94 1983.9,2055.03 1984.7,2054.10 1985.5,2053.14 1986.3,2052.15 1987.1,2051.13 1987.9,2050.07 1988.7,2048.99 1989.5,2047.88 1990.3,2046.73 1991.1,2045.55 1991.9,2044.34 1992.7,2043.10 1993.6,2041.82 1994.4,2040.50 1995.2,2039.15 1996.0,2037.77 1996.8,2036.34 1997.6,2034.88 1998.4,2033.39 1999.2,2031.85 2000.0,2030.28 2000.8,2028.67 2001.6,2027.02 2002.4,2025.33 2003.2,2023.60 2004.0,2021.83 2004.8,2020.02 2005.7,2018.17 2006.5,2016.27 2007.3,2014.34 2008.1,2012.36 2008.9,2010.35 2009.7,2008.28 2010.5,2006.18 2011.3,2004.03 2012.1,2001.85 2012.9,1999.61 2013.7,1997.34 2014.5,1995.02 2015.3,1992.66 2016.1,1990.26 2017.0,1987.81 2017.8,1985.32 2018.6,1982.79 2019.4,1980.21 2020.2,1977.60 2021.0,1974.94 2021.8,1972.24 2022.6,1969.50 2023.4,1966.71 2024.2,1963.89 2025.0,1961.02 2025.8,1958.12 2026.6,1955.18 2027.4,1952.19 2028.3,1949.17 2029.1,1946.11 2029.9,1943.02 2030.7,1939.89 2031.5,1936.72 2032.3,1933.52 2033.1,1930.29 2033.9,1927.03 2034.7,1923.73 2035.5,1920.40 2036.3,1917.04 2037.1,1913.66 2037.9,1910.25 2038.7,1906.81 2039.5,1903.35 2040.4,1899.86 2041.2,1896.35 2042.0,1892.82 2042.8,1889.27 2043.6,1885.71 2044.4,1882.13 2045.2,1878.53 2046.0,1874.92 2046.8,1871.30 2047.6,1867.67 2048.4,1864.03 2049.2,1860.38 2050.0,1856.73 2050.8,1853.08 2051.7,1849.42 2052.5,1845.77 2053.3,1842.12 2054.1,1838.47 2054.9,1834.84 2055.7,1831.21 2056.5,1827.59 2057.3,1823.98 2058.1,1820.39 2058.9,1816.81 2059.7,1813.26 2060.5,1809.72 2061.3,1806.21 2062.1,1802.72 2063.0,1799.26 2063.8,1795.83 2064.6,1792.44 2065.4,1789.07 2066.2,1785.74 2067.0,1782.45 2067.8,1779.20 2068.6,1775.99 2069.4,1772.83 2070.2,1769.71 2071.0,1766.64 2071.8,1763.62 2072.6,1760.65 2073.4,1757.74 2074.2,1754.88 2075.1,1752.09 2075.9,1749.35 2076.7,1746.68 2077.5,1744.07 2078.3,1741.52 2079.1,1739.05 2079.9,1736.64 2080.7,1734.31 2081.5,1732.05 2082.3,1729.86 2083.1,1727.75 2083.9,1725.72 2084.7,1723.76 2085.5,1721.89 2086.4,1720.10 2087.2,1718.39 2088.0,1716.77 2088.8,1715.23 2089.6,1713.79 2090.4,1712.43 2091.2,1711.15 2092.0,1709.97 2092.8,1708.88 2093.6,1707.89 2094.4,1706.98 2095.2,1706.17 2096.0,1705.45 2096.8,1704.83 2097.7,1704.30 2098.5,1703.87 2099.3,1703.53 2100.1,1703.29 2100.9,1703.14 2101.7,1703.10 2102.5,1703.14 2103.3,1703.29 2104.1,1703.53 2104.9,1703.87 2105.7,1704.30 2106.5,1704.83 2107.3,1705.45 2108.1,1706.17 2108.9,1706.98 2109.8,1707.89 2110.6,1708.88 2111.4,1709.97 2112.2,1711.15 2113.0,1712.43 2113.8,1713.79 2114.6,1715.23 2115.4,1716.77 2116.2,1718.39 2117.0,1720.10 2117.8,1721.89 2118.6,1723.76 2119.4,1725.72 2120.2,1727.75 2121.1,1729.86 2121.9,1732.05 2122.7,1734.31 2123.5,1736.64 2124.3,1739.05 2125.1,1741.52 2125.9,1744.07 2126.7,1746.68 2127.5,1749.35 2128.3,1752.09 2129.1,1754.88 2129.9,1757.74 2130.7,1760.65 2131.5,1763.62 2132.4,1766.64 2133.2,1769.71 2134.0,1772.83 2134.8,1775.99 2135.6,1779.20 2136.4,1782.45 2137.2,1785.74 2138.0,1789.07 2138.8,1792.44 2139.6,1795.83 2140.4,1799.26 2141.2,1802.72 2142.0,1806.21 2142.8,1809.72 2143.6,1813.26 2144.5,1816.81 2145.3,1820.39 2146.1,1823.98 2146.9,1827.59 2147.7,1831.21 2148.5,1834.84 2149.3,1838.47 2150.1,1842.12 2150.9,1845.77 2151.7,1849.42 2152.5,1853.08 2153.3,1856.73 2154.1,1860.38 2154.9,1864.03 2155.8,1867.67 2156.6,1871.30 2157.4,1874.92 2158.2,1878.53 2159.0,1882.13 2159.8,1885.71 2160.6,1889.27 2161.4,1892.82 2162.2,1896.35 2163.0,1899.86 2163.8,1903.35 2164.6,1906.81 2165.4,1910.25 2166.2,1913.66 2167.1,1917.04 2167.9,1920.40 2168.7,1923.73 2169.5,1927.03 2170.3,1930.29 2171.1,1933.52 2171.9,1936.72 2172.7,1939.89 2173.5,1943.02 2174.3,1946.11 2175.1,1949.17 2175.9,1952.19 2176.7,1955.18 2177.5,1958.12 2178.3,1961.02 2179.2,1963.89 2180.0,1966.71 2180.8,1969.50 2181.6,1972.24 2182.4,1974.94 2183.2,1977.60 2184.0,1980.21 2184.8,1982.79 2185.6,1985.32 2186.4,1987.81 2187.2,1990.26 2188.0,1992.66 2188.8,1995.02 2189.6,1997.34 2190.5,1999.61 2191.3,2001.85 2192.1,2004.03 2192.9,2006.18 2193.7,2008.28 2194.5,2010.35 2195.3,2012.36 2196.1,2014.34 2196.9,2016.27 2197.7,2018.17 2198.5,2020.02 2199.3,2021.83 2200.1,2023.60 2200.9,2025.33 2201.8,2027.02 2202.6,2028.67 2203.4,2030.28 2204.2,2031.85 2205.0,2033.39 2205.8,2034.88 2206.6,2036.34 2207.4,2037.77 2208.2,2039.15 2209.0,2040.50 2209.8,2041.82 2210.6,2043.10 2211.4,2044.34 2212.2,2045.55 2213.0,2046.73 2213.9,2047.88 2214.7,2048.99 2215.5,2050.07 2216.3,2051.13 2217.1,2052.15 2217.9,2053.14 2218.7,2054.10 2219.5,2055.03 2220.3,2055.94 2221.1,2056.82 2221.9,2057.67 2222.7,2058.49 2223.5,2059.29 2224.3,2060.06 2225.2,2060.81 2226.0,2061.54 2226.8,2062.24 2227.6,2062.92 2228.4,2063.57 2229.2,2064.21 2230.0,2064.82 2230.8,2065.41 2231.6,2065.99 2232.4,2066.54 2233.2,2067.07 2234.0,2067.59 2234.8,2068.08 2235.6,2068.56 2236.4,2069.02 2237.3,2069.47 2238.1,2069.90 2238.9,2070.31 2239.7,2070.71 2240.5,2071.09 2241.3,2071.46 2242.1,2071.82 2242.9,2072.16 2243.7,2072.49 2244.5,2072.80 2245.3,2073.10 2246.1,2073.40 2246.9,2073.68 2247.7,2073.94 2248.6,2074.20 2249.4,2074.45 2250.2,2074.69 2251.0,2074.92 2251.8,2075.13 2252.6,2075.34 2253.4,2075.54 2254.2,2075.74 2255.0,2075.92 2255.8,2076.10 2256.6,2076.27 2257.4,2076.43 2258.2,2076.58 2259.0,2076.73 2259.9,2076.87 2260.7,2077.01 2261.5,2077.14 2262.3,2077.26 2263.1,2077.38 2263.9,2077.49 2264.7,2077.60 2265.5,2077.70 2266.3,2077.80 2267.1,2077.89 2267.9,2077.98 2268.7,2078.07 2269.5,2078.15 2270.3,2078.22 2271.1,2078.30 2272.0,2078.37 2272.8,2078.43 2273.6,2078.50 2274.4,2078.56 2275.2,2078.61 2276.0,2078.67 2276.8,2078.72 2277.6,2078.77 2278.4,2078.82 2279.2,2078.86 2280.0,2078.90 2280.8,2078.94 2281.6,2078.98 2282.4,2079.02 2283.3,2079.05 2284.1,2079.08 2284.9,2079.11 2285.7,2079.14 2286.5,2079.17 2287.3,2079.20 2288.1,2079.22 2288.9,2079.25 2289.7,2079.27 2290.5,2079.29 2291.3,2079.31 2292.1,2079.33 2292.9,2079.34 2293.7,2079.36 2294.6,2079.38 2295.4,2079.39 2296.2,2079.41 2297.0,2079.42 2297.8,2079.43 2298.6,2079.44 2299.4,2079.46 2300.2,2079.47 2301.0,2079.48 2301.8,2079.49 2302.6,2079.49 2303.4,2079.50"/>
<ellipse cx="487.74" cy="2286.72" rx="143.78" ry="103.09" transform="rotate(132.662 487.74 2286.72)" fill="#99C5F8" stroke="#7591c2" stroke-width="1.9"/>
<ellipse cx="487.74" cy="2286.72" rx="88.67" ry="63.58" transform="rotate(132.662 487.74 2286.72)" fill="#006FED"/>
<ellipse cx="891.23" cy="2286.72" rx="156.77" ry="82.00" transform="rotate(133.685 891.23 2286.72)" fill="#99C5F8" stroke="#7591c2" stroke-width="1.9"/>
<ellipse cx="891.23" cy="2286.72" rx="96.69" ry="50.57" transform="rotate(133.685 891.23 2286.72)" fill="#006FED"/>
<ellipse cx="1294.71" cy="2286.72" rx="159.00" ry="77.59" transform="rotate(46.219 1294.71 2286.72)" fill="#99C5F8" stroke="#7591c2" stroke-width="1.9"/>
<ellipse cx="1294.71" cy="2286.72" rx="98.06" ry="47.85" transform="rotate(46.219 1294.71 2286.72)" fill="#006FED"/>
<ellipse cx="1698.20" cy="2286.72" rx="167.38" ry="57.31" transform="rotate(134.051 1698.20 2286.72)" fill="#99C5F8" stroke="#7591c2" stroke-width="1.9"/>
<ellipse cx="1698.20" cy="2286.72" rx="103.23" ry="35.34" transform="rotate(134.051 1698.20 2286.72)" fill="#006FED"/>
<ellipse cx="2101.69" cy="2286.72" rx="166.77" ry="59.05" transform="rotate(45.965 2101.69 2286.72)" fill="#99C5F8" stroke="#7591c2" stroke-width="1.9"/>
<ellipse cx="2101.69" cy="2286.72" rx="102.85" ry="36.42" transform="rotate(45.965 2101.69 2286.72)" fill="#006FED"/>
<clipPath id="c5"><rect x="2303.43" y="2079.63" width="403.49" height="414.19"/></clipPath>
<polyline clip-path="url(#c5)" fill="none" stroke="#0a5dcc" stroke-width="2.15" stroke-linejoin="round" points="2303.4,2493.69 2304.2,2493.68 2305.0,2493.67 2305.8,2493.66 2306.7,2493.65 2307.5,2493.64 2308.3,2493.63 2309.1,2493.62 2309.9,2493.61 2310.7,2493.59 2311.5,2493.58 2312.3,2493.56 2313.1,2493.55 2313.9,2493.53 2314.7,2493.51 2315.5,2493.49 2316.3,2493.47 2317.1,2493.45 2318.0,2493.43 2318.8,2493.41 2319.6,2493.38 2320.4,2493.36 2321.2,2493.33 2322.0,2493.30 2322.8,2493.27 2323.6,2493.24 2324.4,2493.20 2325.2,2493.17 2326.0,2493.13 2326.8,2493.09 2327.6,2493.05 2328.4,2493.00 2329.3,2492.96 2330.1,2492.91 2330.9,2492.85 2331.7,2492.80 2332.5,2492.74 2333.3,2492.68 2334.1,2492.62 2334.9,2492.55 2335.7,2492.48 2336.5,2492.41 2337.3,2492.33 2338.1,2492.25 2338.9,2492.17 2339.7,2492.08 2340.5,2491.98 2341.4,2491.89 2342.2,2491.78 2343.0,2491.68 2343.8,2491.56 2344.6,2491.45 2345.4,2491.32 2346.2,2491.19 2347.0,2491.06 2347.8,2490.92 2348.6,2490.77 2349.4,2490.61 2350.2,2490.45 2351.0,2490.28 2351.8,2490.11 2352.7,2489.92 2353.5,2489.73 2354.3,2489.53 2355.1,2489.32 2355.9,2489.10 2356.7,2488.87 2357.5,2488.64 2358.3,2488.39 2359.1,2488.13 2359.9,2487.86 2360.7,2487.58 2361.5,2487.29 2362.3,2486.99 2363.1,2486.67 2364.0,2486.34 2364.8,2486.00 2365.6,2485.65 2366.4,2485.28 2367.2,2484.90 2368.0,2484.50 2368.8,2484.08 2369.6,2483.66 2370.4,2483.21 2371.2,2482.75 2372.0,2482.27 2372.8,2481.77 2373.6,2481.26 2374.4,2480.73 2375.2,2480.17 2376.1,2479.60 2376.9,2479.01 2377.7,2478.40 2378.5,2477.76 2379.3,2477.10 2380.1,2476.43 2380.9,2475.72 2381.7,2475.00 2382.5,2474.25 2383.3,2473.48 2384.1,2472.68 2384.9,2471.85 2385.7,2471.00 2386.5,2470.12 2387.4,2469.22 2388.2,2468.29 2389.0,2467.32 2389.8,2466.33 2390.6,2465.31 2391.4,2464.26 2392.2,2463.18 2393.0,2462.06 2393.8,2460.92 2394.6,2459.74 2395.4,2458.53 2396.2,2457.28 2397.0,2456.00 2397.8,2454.69 2398.7,2453.34 2399.5,2451.95 2400.3,2450.53 2401.1,2449.07 2401.9,2447.57 2402.7,2446.04 2403.5,2444.47 2404.3,2442.86 2405.1,2441.21 2405.9,2439.52 2406.7,2437.79 2407.5,2436.02 2408.3,2434.21 2409.1,2432.35 2409.9,2430.46 2410.8,2428.53 2411.6,2426.55 2412.4,2424.53 2413.2,2422.47 2414.0,2420.37 2414.8,2418.22 2415.6,2416.03 2416.4,2413.80 2417.2,2411.53 2418.0,2409.21 2418.8,2406.85 2419.6,2404.44 2420.4,2402.00 2421.2,2399.51 2422.1,2396.98 2422.9,2394.40 2423.7,2391.78 2424.5,2389.12 2425.3,2386.42 2426.1,2383.68 2426.9,2380.90 2427.7,2378.07 2428.5,2375.21 2429.3,2372.30 2430.1,2369.36 2430.9,2366.38 2431.7,2363.36 2432.5,2360.30 2433.4,2357.21 2434.2,2354.08 2435.0,2350.91 2435.8,2347.71 2436.6,2344.48 2437.4,2341.21 2438.2,2337.91 2439.0,2334.59 2439.8,2331.23 2440.6,2327.84 2441.4,2324.43 2442.2,2320.99 2443.0,2317.53 2443.8,2314.04 2444.6,2310.54 2445.5,2307.01 2446.3,2303.46 2447.1,2299.89 2447.9,2296.31 2448.7,2292.71 2449.5,2289.10 2450.3,2285.48 2451.1,2281.85 2451.9,2278.21 2452.7,2274.57 2453.5,2270.92 2454.3,2267.26 2455.1,2263.61 2455.9,2259.96 2456.8,2256.31 2457.6,2252.66 2458.4,2249.02 2459.2,2245.39 2460.0,2241.77 2460.8,2238.17 2461.6,2234.57 2462.4,2231.00 2463.2,2227.44 2464.0,2223.91 2464.8,2220.40 2465.6,2216.91 2466.4,2213.45 2467.2,2210.02 2468.1,2206.62 2468.9,2203.26 2469.7,2199.93 2470.5,2196.64 2471.3,2193.39 2472.1,2190.18 2472.9,2187.01 2473.7,2183.89 2474.5,2180.82 2475.3,2177.80 2476.1,2174.84 2476.9,2171.93 2477.7,2169.07 2478.5,2166.27 2479.3,2163.54 2480.2,2160.86 2481.0,2158.25 2481.8,2155.71 2482.6,2153.23 2483.4,2150.83 2484.2,2148.49 2485.0,2146.23 2485.8,2144.04 2486.6,2141.93 2487.4,2139.90 2488.2,2137.95 2489.0,2136.08 2489.8,2134.28 2490.6,2132.58 2491.5,2130.96 2492.3,2129.42 2493.1,2127.97 2493.9,2126.61 2494.7,2125.34 2495.5,2124.16 2496.3,2123.07 2497.1,2122.07 2497.9,2121.17 2498.7,2120.35 2499.5,2119.64 2500.3,2119.01 2501.1,2118.48 2501.9,2118.05 2502.8,2117.72 2503.6,2117.47 2504.4,2117.33 2505.2,2117.28 2506.0,2117.33 2506.8,2117.47 2507.6,2117.72 2508.4,2118.05 2509.2,2118.48 2510.0,2119.01 2510.8,2119.64 2511.6,2120.35 2512.4,2121.17 2513.2,2122.07 2514.0,2123.07 2514.9,2124.16 2515.7,2125.34 2516.5,2126.61 2517.3,2127.97 2518.1,2129.42 2518.9,2130.96 2519.7,2132.58 2520.5,2134.28 2521.3,2136.08 2522.1,2137.95 2522.9,2139.90 2523.7,2141.93 2524.5,2144.04 2525.3,2146.23 2526.2,2148.49 2527.0,2150.83 2527.8,2153.23 2528.6,2155.71 2529.4,2158.25 2530.2,2160.86 2531.0,2163.54 2531.8,2166.27 2532.6,2169.07 2533.4,2171.93 2534.2,2174.84 2535.0,2177.80 2535.8,2180.82 2536.6,2183.89 2537.5,2187.01 2538.3,2190.18 2539.1,2193.39 2539.9,2196.64 2540.7,2199.93 2541.5,2203.26 2542.3,2206.62 2543.1,2210.02 2543.9,2213.45 2544.7,2216.91 2545.5,2220.40 2546.3,2223.91 2547.1,2227.44 2547.9,2231.00 2548.7,2234.57 2549.6,2238.17 2550.4,2241.77 2551.2,2245.39 2552.0,2249.02 2552.8,2252.66 2553.6,2256.31 2554.4,2259.96 2555.2,2263.61 2556.0,2267.26 2556.8,2270.92 2557.6,2274.57 2558.4,2278.21 2559.2,2281.85 2560.0,2285.48 2560.9,2289.10 2561.7,2292.71 2562.5,2296.31 2563.3,2299.89 2564.1,2303.46 2564.9,2307.01 2565.7,2310.54 2566.5,2314.04 2567.3,2317.53 2568.1,2320.99 2568.9,2324.43 2569.7,2327.84 2570.5,2331.23 2571.3,2334.59 2572.2,2337.91 2573.0,2341.21 2573.8,2344.48 2574.6,2347.71 2575.4,2350.91 2576.2,2354.08 2577.0,2357.21 2577.8,2360.30 2578.6,2363.36 2579.4,2366.38 2580.2,2369.36 2581.0,2372.30 2581.8,2375.21 2582.6,2378.07 2583.4,2380.90 2584.3,2383.68 2585.1,2386.42 2585.9,2389.12 2586.7,2391.78 2587.5,2394.40 2588.3,2396.98 2589.1,2399.51 2589.9,2402.00 2590.7,2404.44 2591.5,2406.85 2592.3,2409.21 2593.1,2411.53 2593.9,2413.80 2594.7,2416.03 2595.6,2418.22 2596.4,2420.37 2597.2,2422.47 2598.0,2424.53 2598.8,2426.55 2599.6,2428.53 2600.4,2430.46 2601.2,2432.35 2602.0,2434.21 2602.8,2436.02 2603.6,2437.79 2604.4,2439.52 2605.2,2441.21 2606.0,2442.86 2606.8,2444.47 2607.7,2446.04 2608.5,2447.57 2609.3,2449.07 2610.1,2450.53 2610.9,2451.95 2611.7,2453.34 2612.5,2454.69 2613.3,2456.00 2614.1,2457.28 2614.9,2458.53 2615.7,2459.74 2616.5,2460.92 2617.3,2462.06 2618.1,2463.18 2619.0,2464.26 2619.8,2465.31 2620.6,2466.33 2621.4,2467.32 2622.2,2468.29 2623.0,2469.22 2623.8,2470.12 2624.6,2471.00 2625.4,2471.85 2626.2,2472.68 2627.0,2473.48 2627.8,2474.25 2628.6,2475.00 2629.4,2475.72 2630.3,2476.43 2631.1,2477.10 2631.9,2477.76 2632.7,2478.40 2633.5,2479.01 2634.3,2479.60 2635.1,2480.17 2635.9,2480.73 2636.7,2481.26 2637.5,2481.77 2638.3,2482.27 2639.1,2482.75 2639.9,2483.21 2640.7,2483.66 2641.5,2484.08 2642.4,2484.50 2643.2,2484.90 2644.0,2485.28 2644.8,2485.65 2645.6,2486.00 2646.4,2486.34 2647.2,2486.67 2648.0,2486.99 2648.8,2487.29 2649.6,2487.58 2650.4,2487.86 2651.2,2488.13 2652.0,2488.39 2652.8,2488.64 2653.7,2488.87 2654.5,2489.10 2655.3,2489.32 2656.1,2489.53 2656.9,2489.73 2657.7,2489.92 2658.5,2490.11 2659.3,2490.28 2660.1,2490.45 2660.9,2490.61 2661.7,2490.77 2662.5,2490.92 2663.3,2491.06 2664.1,2491.19 2665.0,2491.32 2665.8,2491.45 2666.6,2491.56 2667.4,2491.68 2668.2,2491.78 2669.0,2491.89 2669.8,2491.98 2670.6,2492.08 2671.4,2492.17 2672.2,2492.25 2673.0,2492.33 2673.8,2492.41 2674.6,2492.48 2675.4,2492.55 2676.2,2492.62 2677.1,2492.68 2677.9,2492.74 2678.7,2492.80 2679.5,2492.85 2680.3,2492.91 2681.1,2492.96 2681.9,2493.00 2682.7,2493.05 2683.5,2493.09 2684.3,2493.13 2685.1,2493.17 2685.9,2493.20 2686.7,2493.24 2687.5,2493.27 2688.4,2493.30 2689.2,2493.33 2690.0,2493.36 2690.8,2493.38 2691.6,2493.41 2692.4,2493.43 2693.2,2493.45 2694.0,2493.47 2694.8,2493.49 2695.6,2493.51 2696.4,2493.53 2697.2,2493.55 2698.0,2493.56 2698.8,2493.58 2699.7,2493.59 2700.5,2493.61 2701.3,2493.62 2702.1,2493.63 2702.9,2493.64 2703.7,2493.65 2704.5,2493.66 2705.3,2493.67 2706.1,2493.68 2706.9,2493.69"/>
<ellipse cx="487.74" cy="2700.91" rx="153.60" ry="87.79" transform="rotate(133.522 487.74 2700.91)" fill="#99C5F8" stroke="#7591c2" stroke-width="1.9"/>
<ellipse cx="487.74" cy="2700.91" rx="94.73" ry="54.14" transform="rotate(133.522 487.74 2700.91)" fill="#006FED"/>
<ellipse cx="891.23" cy="2700.91" rx="154.26" ry="86.63" transform="rotate(46.441 891.23 2700.91)" fill="#99C5F8" stroke="#7591c2" stroke-width="1.9"/>
<ellipse cx="891.23" cy="2700.91" rx="95.14" ry="53.43" transform="rotate(46.441 891.23 2700.91)" fill="#006FED"/>
<ellipse cx="1294.71" cy="2700.91" rx="153.50" ry="87.97" transform="rotate(133.516 1294.71 2700.91)" fill="#99C5F8" stroke="#7591c2" stroke-width="1.9"/>
<ellipse cx="1294.71" cy="2700.91" rx="94.67" ry="54.25" transform="rotate(133.516 1294.71 2700.91)" fill="#006FED"/>
<ellipse cx="1698.20" cy="2700.91" rx="155.27" ry="84.81" transform="rotate(46.388 1698.20 2700.91)" fill="#99C5F8" stroke="#7591c2" stroke-width="1.9"/>
<ellipse cx="1698.20" cy="2700.91" rx="95.76" ry="52.30" transform="rotate(46.388 1698.20 2700.91)" fill="#006FED"/>
<ellipse cx="2101.69" cy="2700.91" rx="132.56" ry="117.17" transform="rotate(51.153 2101.69 2700.91)" fill="#99C5F8" stroke="#7591c2" stroke-width="1.9"/>
<ellipse cx="2101.69" cy="2700.91" rx="81.75" ry="72.26" transform="rotate(51.153 2101.69 2700.91)" fill="#006FED"/>
<ellipse cx="2505.17" cy="2700.91" rx="128.32" ry="121.80" transform="rotate(119.907 2505.17 2700.91)" fill="#99C5F8" stroke="#7591c2" stroke-width="1.9"/>
<ellipse cx="2505.17" cy="2700.91" rx="79.14" ry="75.12" transform="rotate(119.907 2505.17 2700.91)" fill="#006FED"/>
<clipPath id="c6"><rect x="2706.91" y="2493.81" width="403.49" height="414.19"/></clipPath>
<polyline clip-path="url(#c6)" fill="none" stroke="#0a5dcc" stroke-width="2.15" stroke-linejoin="round" points="2706.9,2907.87 2707.7,2907.87 2708.5,2907.86 2709.3,2907.85 2710.1,2907.84 2710.9,2907.83 2711.8,2907.82 2712.6,2907.80 2713.4,2907.79 2714.2,2907.78 2715.0,2907.76 2715.8,2907.75 2716.6,2907.73 2717.4,2907.72 2718.2,2907.70 2719.0,2907.68 2719.8,2907.66 2720.6,2907.64 2721.4,2907.62 2722.2,2907.59 2723.1,2907.57 2723.9,2907.54 2724.7,2907.51 2725.5,2907.49 2726.3,2907.45 2727.1,2907.42 2727.9,2907.39 2728.7,2907.35 2729.5,2907.31 2730.3,2907.27 2731.1,2907.23 2731.9,2907.19 2732.7,2907.14 2733.5,2907.09 2734.4,2907.04 2735.2,2906.99 2736.0,2906.93 2736.8,2906.87 2737.6,2906.80 2738.4,2906.74 2739.2,2906.67 2740.0,2906.60 2740.8,2906.52 2741.6,2906.44 2742.4,2906.35 2743.2,2906.26 2744.0,2906.17 2744.8,2906.07 2745.6,2905.97 2746.5,2905.86 2747.3,2905.75 2748.1,2905.63 2748.9,2905.51 2749.7,2905.38 2750.5,2905.24 2751.3,2905.10 2752.1,2904.95 2752.9,2904.80 2753.7,2904.64 2754.5,2904.47 2755.3,2904.29 2756.1,2904.11 2756.9,2903.92 2757.8,2903.72 2758.6,2903.51 2759.4,2903.29 2760.2,2903.06 2761.0,2902.82 2761.8,2902.57 2762.6,2902.32 2763.4,2902.05 2764.2,2901.77 2765.0,2901.48 2765.8,2901.17 2766.6,2900.86 2767.4,2900.53 2768.2,2900.19 2769.1,2899.83 2769.9,2899.46 2770.7,2899.08 2771.5,2898.68 2772.3,2898.27 2773.1,2897.84 2773.9,2897.40 2774.7,2896.93 2775.5,2896.46 2776.3,2895.96 2777.1,2895.44 2777.9,2894.91 2778.7,2894.36 2779.5,2893.79 2780.3,2893.19 2781.2,2892.58 2782.0,2891.95 2782.8,2891.29 2783.6,2890.61 2784.4,2889.91 2785.2,2889.19 2786.0,2888.44 2786.8,2887.66 2787.6,2886.86 2788.4,2886.04 2789.2,2885.19 2790.0,2884.31 2790.8,2883.40 2791.6,2882.47 2792.5,2881.51 2793.3,2880.52 2794.1,2879.50 2794.9,2878.45 2795.7,2877.36 2796.5,2876.25 2797.3,2875.10 2798.1,2873.92 2798.9,2872.71 2799.7,2871.47 2800.5,2870.19 2801.3,2868.87 2802.1,2867.52 2802.9,2866.14 2803.8,2864.72 2804.6,2863.26 2805.4,2861.76 2806.2,2860.23 2807.0,2858.65 2807.8,2857.04 2808.6,2855.39 2809.4,2853.70 2810.2,2851.97 2811.0,2850.20 2811.8,2848.39 2812.6,2846.54 2813.4,2844.65 2814.2,2842.71 2815.0,2840.74 2815.9,2838.72 2816.7,2836.66 2817.5,2834.55 2818.3,2832.41 2819.1,2830.22 2819.9,2827.99 2820.7,2825.71 2821.5,2823.39 2822.3,2821.03 2823.1,2818.63 2823.9,2816.18 2824.7,2813.69 2825.5,2811.16 2826.3,2808.59 2827.2,2805.97 2828.0,2803.31 2828.8,2800.61 2829.6,2797.87 2830.4,2795.08 2831.2,2792.26 2832.0,2789.39 2832.8,2786.49 2833.6,2783.55 2834.4,2780.56 2835.2,2777.54 2836.0,2774.49 2836.8,2771.39 2837.6,2768.26 2838.5,2765.10 2839.3,2761.90 2840.1,2758.66 2840.9,2755.40 2841.7,2752.10 2842.5,2748.77 2843.3,2745.42 2844.1,2742.03 2844.9,2738.62 2845.7,2735.18 2846.5,2731.72 2847.3,2728.23 2848.1,2724.72 2848.9,2721.19 2849.7,2717.64 2850.6,2714.08 2851.4,2710.50 2852.2,2706.90 2853.0,2703.29 2853.8,2699.67 2854.6,2696.04 2855.4,2692.40 2856.2,2688.75 2857.0,2685.10 2857.8,2681.45 2858.6,2677.79 2859.4,2674.14 2860.2,2670.49 2861.0,2666.85 2861.9,2663.21 2862.7,2659.58 2863.5,2655.96 2864.3,2652.35 2865.1,2648.76 2865.9,2645.18 2866.7,2641.63 2867.5,2638.09 2868.3,2634.58 2869.1,2631.09 2869.9,2627.64 2870.7,2624.20 2871.5,2620.81 2872.3,2617.44 2873.2,2614.11 2874.0,2610.82 2874.8,2607.57 2875.6,2604.36 2876.4,2601.20 2877.2,2598.08 2878.0,2595.01 2878.8,2591.99 2879.6,2589.02 2880.4,2586.11 2881.2,2583.26 2882.0,2580.46 2882.8,2577.72 2883.6,2575.05 2884.4,2572.44 2885.3,2569.90 2886.1,2567.42 2886.9,2565.01 2887.7,2562.68 2888.5,2560.42 2889.3,2558.23 2890.1,2556.12 2890.9,2554.09 2891.7,2552.13 2892.5,2550.26 2893.3,2548.47 2894.1,2546.76 2894.9,2545.14 2895.7,2543.61 2896.6,2542.16 2897.4,2540.80 2898.2,2539.53 2899.0,2538.34 2899.8,2537.25 2900.6,2536.26 2901.4,2535.35 2902.2,2534.54 2903.0,2533.82 2903.8,2533.20 2904.6,2532.67 2905.4,2532.24 2906.2,2531.90 2907.0,2531.66 2907.9,2531.52 2908.7,2531.47 2909.5,2531.52 2910.3,2531.66 2911.1,2531.90 2911.9,2532.24 2912.7,2532.67 2913.5,2533.20 2914.3,2533.82 2915.1,2534.54 2915.9,2535.35 2916.7,2536.26 2917.5,2537.25 2918.3,2538.34 2919.1,2539.53 2920.0,2540.80 2920.8,2542.16 2921.6,2543.61 2922.4,2545.14 2923.2,2546.76 2924.0,2548.47 2924.8,2550.26 2925.6,2552.13 2926.4,2554.09 2927.2,2556.12 2928.0,2558.23 2928.8,2560.42 2929.6,2562.68 2930.4,2565.01 2931.3,2567.42 2932.1,2569.90 2932.9,2572.44 2933.7,2575.05 2934.5,2577.72 2935.3,2580.46 2936.1,2583.26 2936.9,2586.11 2937.7,2589.02 2938.5,2591.99 2939.3,2595.01 2940.1,2598.08 2940.9,2601.20 2941.7,2604.36 2942.5,2607.57 2943.4,2610.82 2944.2,2614.11 2945.0,2617.44 2945.8,2620.81 2946.6,2624.20 2947.4,2627.64 2948.2,2631.09 2949.0,2634.58 2949.8,2638.09 2950.6,2641.63 2951.4,2645.18 2952.2,2648.76 2953.0,2652.35 2953.8,2655.96 2954.7,2659.58 2955.5,2663.21 2956.3,2666.85 2957.1,2670.49 2957.9,2674.14 2958.7,2677.79 2959.5,2681.45 2960.3,2685.10 2961.1,2688.75 2961.9,2692.40 2962.7,2696.04 2963.5,2699.67 2964.3,2703.29 2965.1,2706.90 2966.0,2710.50 2966.8,2714.08 2967.6,2717.64 2968.4,2721.19 2969.2,2724.72 2970.0,2728.23 2970.8,2731.72 2971.6,2735.18 2972.4,2738.62 2973.2,2742.03 2974.0,2745.42 2974.8,2748.77 2975.6,2752.10 2976.4,2755.40 2977.2,2758.66 2978.1,2761.90 2978.9,2765.10 2979.7,2768.26 2980.5,2771.39 2981.3,2774.49 2982.1,2777.54 2982.9,2780.56 2983.7,2783.55 2984.5,2786.49 2985.3,2789.39 2986.1,2792.26 2986.9,2795.08 2987.7,2797.87 2988.5,2800.61 2989.4,2803.31 2990.2,2805.97 2991.0,2808.59 2991.8,2811.16 2992.6,2813.69 2993.4,2816.18 2994.2,2818.63 2995.0,2821.03 2995.8,2823.39 2996.6,2825.71 2997.4,2827.99 2998.2,2830.22 2999.0,2832.41 2999.8,2834.55 3000.7,2836.66 3001.5,2838.72 3002.3,2840.74 3003.1,2842.71 3003.9,2844.65 3004.7,2846.54 3005.5,2848.39 3006.3,2850.20 3007.1,2851.97 3007.9,2853.70 3008.7,2855.39 3009.5,2857.04 3010.3,2858.65 3011.1,2860.23 3011.9,2861.76 3012.8,2863.26 3013.6,2864.72 3014.4,2866.14 3015.2,2867.52 3016.0,2868.87 3016.8,2870.19 3017.6,2871.47 3018.4,2872.71 3019.2,2873.92 3020.0,2875.10 3020.8,2876.25 3021.6,2877.36 3022.4,2878.45 3023.2,2879.50 3024.1,2880.52 3024.9,2881.51 3025.7,2882.47 3026.5,2883.40 3027.3,2884.31 3028.1,2885.19 3028.9,2886.04 3029.7,2886.86 3030.5,2887.66 3031.3,2888.44 3032.1,2889.19 3032.9,2889.91 3033.7,2890.61 3034.5,2891.29 3035.4,2891.95 3036.2,2892.58 3037.0,2893.19 3037.8,2893.79 3038.6,2894.36 3039.4,2894.91 3040.2,2895.44 3041.0,2895.96 3041.8,2896.46 3042.6,2896.93 3043.4,2897.40 3044.2,2897.84 3045.0,2898.27 3045.8,2898.68 3046.6,2899.08 3047.5,2899.46 3048.3,2899.83 3049.1,2900.19 3049.9,2900.53 3050.7,2900.86 3051.5,2901.17 3052.3,2901.48 3053.1,2901.77 3053.9,2902.05 3054.7,2902.32 3055.5,2902.57 3056.3,2902.82 3057.1,2903.06 3057.9,2903.29 3058.8,2903.51 3059.6,2903.72 3060.4,2903.92 3061.2,2904.11 3062.0,2904.29 3062.8,2904.47 3063.6,2904.64 3064.4,2904.80 3065.2,2904.95 3066.0,2905.10 3066.8,2905.24 3067.6,2905.38 3068.4,2905.51 3069.2,2905.63 3070.1,2905.75 3070.9,2905.86 3071.7,2905.97 3072.5,2906.07 3073.3,2906.17 3074.1,2906.26 3074.9,2906.35 3075.7,2906.44 3076.5,2906.52 3077.3,2906.60 3078.1,2906.67 3078.9,2906.74 3079.7,2906.80 3080.5,2906.87 3081.3,2906.93 3082.2,2906.99 3083.0,2907.04 3083.8,2907.09 3084.6,2907.14 3085.4,2907.19 3086.2,2907.23 3087.0,2907.27 3087.8,2907.31 3088.6,2907.35 3089.4,2907.39 3090.2,2907.42 3091.0,2907.45 3091.8,2907.49 3092.6,2907.51 3093.5,2907.54 3094.3,2907.57 3095.1,2907.59 3095.9,2907.62 3096.7,2907.64 3097.5,2907.66 3098.3,2907.68 3099.1,2907.70 3099.9,2907.72 3100.7,2907.73 3101.5,2907.75 3102.3,2907.76 3103.1,2907.78 3103.9,2907.79 3104.8,2907.80 3105.6,2907.82 3106.4,2907.83 3107.2,2907.84 3108.0,2907.85 3108.8,2907.86 3109.6,2907.87 3110.4,2907.87"/>
<rect x="286.00" y="8.70" width="403.49" height="414.19" fill="none" stroke="#000" stroke-width="2.10"/>
<rect x="286.00" y="422.89" width="403.49" height="414.19" fill="none" stroke="#000" stroke-width="2.10"/>
<rect x="689.49" y="422.89" width="403.49" height="414.19" fill="none" stroke="#000" stroke-width="2.10"/>
<rect x="286.00" y="837.07" width="403.49" height="414.19" fill="none" stroke="#000" stroke-width="2.10"/>
<rect x="689.49" y="837.07" width="403.49" height="414.19" fill="none" stroke="#000" stroke-width="2.10"/>
<rect x="1092.97" y="837.07" width="403.49" height="414.19" fill="none" stroke="#000" stroke-width="2.10"/>
<rect x="286.00" y="1251.26" width="403.49" height="414.19" fill="none" stroke="#000" stroke-width="2.10"/>
<rect x="689.49" y="1251.26" width="403.49" height="414.19" fill="none" stroke="#000" stroke-width="2.10"/>
<rect x="1092.97" y="1251.26" width="403.49" height="414.19" fill="none" stroke="#000" stroke-width="2.10"/>
<rect x="1496.46" y="1251.26" width="403.49" height="414.19" fill="none" stroke="#000" stroke-width="2.10"/>
<rect x="286.00" y="1665.44" width="403.49" height="414.19" fill="none" stroke="#000" stroke-width="2.10"/>
<rect x="689.49" y="1665.44" width="403.49" height="414.19" fill="none" stroke="#000" stroke-width="2.10"/>
<rect x="1092.97" y="1665.44" width="403.49" height="414.19" fill="none" stroke="#000" stroke-width="2.10"/>
<rect x="1496.46" y="1665.44" width="403.49" height="414.19" fill="none" stroke="#000" stroke-width="2.10"/>
<rect x="1899.94" y="1665.44" width="403.49" height="414.19" fill="none" stroke="#000" stroke-width="2.10"/>
<rect x="286.00" y="2079.63" width="403.49" height="414.19" fill="none" stroke="#000" stroke-width="2.10"/>
<rect x="689.49" y="2079.63" width="403.49" height="414.19" fill="none" stroke="#000" stroke-width="2.10"/>
<rect x="1092.97" y="2079.63" width="403.49" height="414.19" fill="none" stroke="#000" stroke-width="2.10"/>
<rect x="1496.46" y="2079.63" width="403.49" height="414.19" fill="none" stroke="#000" stroke-width="2.10"/>
<rect x="1899.94" y="2079.63" width="403.49" height="414.19" fill="none" stroke="#000" stroke-width="2.10"/>
<rect x="2303.43" y="2079.63" width="403.49" height="414.19" fill="none" stroke="#000" stroke-width="2.10"/>
<rect x="286.00" y="2493.81" width="403.49" height="414.19" fill="none" stroke="#000" stroke-width="2.10"/>
<rect x="689.49" y="2493.81" width="403.49" height="414.19" fill="none" stroke="#000" stroke-width="2.10"/>
<rect x="1092.97" y="2493.81" width="403.49" height="414.19" fill="none" stroke="#000" stroke-width="2.10"/>
<rect x="1496.46" y="2493.81" width="403.49" height="414.19" fill="none" stroke="#000" stroke-width="2.10"/>
<rect x="1899.94" y="2493.81" width="403.49" height="414.19" fill="none" stroke="#000" stroke-width="2.10"/>
<rect x="2303.43" y="2493.81" width="403.49" height="414.19" fill="none" stroke="#000" stroke-width="2.10"/>
<rect x="2706.91" y="2493.81" width="403.49" height="414.19" fill="none" stroke="#000" stroke-width="2.10"/>
<path d="M374.00 422.89L374.00 411.29 M601.49 422.89L601.49 411.29 M374.00 837.07L374.00 825.47 M374.00 422.89L374.00 434.49 M601.49 837.07L601.49 825.47 M601.49 422.89L601.49 434.49 M286.00 766.40L297.60 766.40 M689.49 766.40L677.89 766.40 M286.00 629.98L297.60 629.98 M689.49 629.98L677.89 629.98 M286.00 493.55L297.60 493.55 M689.49 493.55L677.89 493.55 M891.23 837.07L891.23 825.47 M374.00 1251.26L374.00 1239.66 M374.00 837.07L374.00 848.67 M601.49 1251.26L601.49 1239.66 M601.49 837.07L601.49 848.67 M286.00 1168.14L297.60 1168.14 M689.49 1168.14L677.89 1168.14 M286.00 1044.16L297.60 1044.16 M689.49 1044.16L677.89 1044.16 M286.00 920.19L297.60 920.19 M689.49 920.19L677.89 920.19 M891.23 1251.26L891.23 1239.66 M891.23 837.07L891.23 848.67 M689.49 1168.14L701.09 1168.14 M1092.97 1168.14L1081.37 1168.14 M689.49 1044.16L701.09 1044.16 M1092.97 1044.16L1081.37 1044.16 M689.49 920.19L701.09 920.19 M1092.97 920.19L1081.37 920.19 M1294.71 1251.26L1294.71 1239.66 M374.00 1665.44L374.00 1653.84 M374.00 1251.26L374.00 1262.86 M601.49 1665.44L601.49 1653.84 M601.49 1251.26L601.49 1262.86 M286.00 1602.54L297.60 1602.54 M689.49 1602.54L677.89 1602.54 M286.00 1458.35L297.60 1458.35 M689.49 1458.35L677.89 1458.35 M286.00 1314.16L297.60 1314.16 M689.49 1314.16L677.89 1314.16 M891.23 1665.44L891.23 1653.84 M891.23 1251.26L891.23 1262.86 M689.49 1602.54L701.09 1602.54 M1092.97 1602.54L1081.37 1602.54 M689.49 1458.35L701.09 1458.35 M1092.97 1458.35L1081.37 1458.35 M689.49 1314.16L701.09 1314.16 M1092.97 1314.16L1081.37 1314.16 M1294.71 1665.44L1294.71 1653.84 M1294.71 1251.26L1294.71 1262.86 M1092.97 1602.54L1104.57 1602.54 M1496.46 1602.54L1484.86 1602.54 M1092.97 1458.35L1104.57 1458.35 M1496.46 1458.35L1484.86 1458.35 M1092.97 1314.16L1104.57 1314.16 M1496.46 1314.16L1484.86 1314.16 M1698.20 1665.44L1698.20 1653.84 M374.00 2079.63L374.00 2068.03 M374.00 1665.44L374.00 1677.04 M601.49 2079.63L601.49 2068.03 M601.49 1665.44L601.49 1677.04 M286.00 1978.41L297.60 1978.41 M689.49 1978.41L677.89 1978.41 M286.00 1766.66L297.60 1766.66 M689.49 1766.66L677.89 1766.66 M891.23 2079.63L891.23 2068.03 M891.23 1665.44L891.23 1677.04 M689.49 1978.41L701.09 1978.41 M1092.97 1978.41L1081.37 1978.41 M689.49 1766.66L701.09 1766.66 M1092.97 1766.66L1081.37 1766.66 M1294.71 2079.63L1294.71 2068.03 M1294.71 1665.44L1294.71 1677.04 M1092.97 1978.41L1104.57 1978.41 M1496.46 1978.41L1484.86 1978.41 M1092.97 1766.66L1104.57 1766.66 M1496.46 1766.66L1484.86 1766.66 M1698.20 2079.63L1698.20 2068.03 M1698.20 1665.44L1698.20 1677.04 M1496.46 1978.41L1508.06 1978.41 M1899.94 1978.41L1888.34 1978.41 M1496.46 1766.66L1508.06 1766.66 M1899.94 1766.66L1888.34 1766.66 M1998.55 2079.63L1998.55 2068.03 M2204.83 2079.63L2204.83 2068.03 M374.00 2493.81L374.00 2482.21 M374.00 2079.63L374.00 2091.23 M601.49 2493.81L601.49 2482.21 M601.49 2079.63L601.49 2091.23 M286.00 2358.33L297.60 2358.33 M689.49 2358.33L677.89 2358.33 M286.00 2215.11L297.60 2215.11 M689.49 2215.11L677.89 2215.11 M891.23 2493.81L891.23 2482.21 M891.23 2079.63L891.23 2091.23 M689.49 2358.33L701.09 2358.33 M1092.97 2358.33L1081.37 2358.33 M689.49 2215.11L701.09 2215.11 M1092.97 2215.11L1081.37 2215.11 M1294.71 2493.81L1294.71 2482.21 M1294.71 2079.63L1294.71 2091.23 M1092.97 2358.33L1104.57 2358.33 M1496.46 2358.33L1484.86 2358.33 M1092.97 2215.11L1104.57 2215.11 M1496.46 2215.11L1484.86 2215.11 M1698.20 2493.81L1698.20 2482.21 M1698.20 2079.63L1698.20 2091.23 M1496.46 2358.33L1508.06 2358.33 M1899.94 2358.33L1888.34 2358.33 M1496.46 2215.11L1508.06 2215.11 M1899.94 2215.11L1888.34 2215.11 M1998.55 2493.81L1998.55 2482.21 M1998.55 2079.63L1998.55 2091.23 M2204.83 2493.81L2204.83 2482.21 M2204.83 2079.63L2204.83 2091.23 M1899.94 2358.33L1911.54 2358.33 M2303.43 2358.33L2291.83 2358.33 M1899.94 2215.11L1911.54 2215.11 M2303.43 2215.11L2291.83 2215.11 M2505.17 2493.81L2505.17 2482.21 M374.00 2908.00L374.00 2896.40 M374.00 2493.81L374.00 2505.41 M601.49 2908.00L601.49 2896.40 M601.49 2493.81L601.49 2505.41 M286.00 2811.39L297.60 2811.39 M689.49 2811.39L677.89 2811.39 M286.00 2700.91L297.60 2700.91 M689.49 2700.91L677.89 2700.91 M286.00 2590.42L297.60 2590.42 M689.49 2590.42L677.89 2590.42 M891.23 2908.00L891.23 2896.40 M891.23 2493.81L891.23 2505.41 M689.49 2811.39L701.09 2811.39 M1092.97 2811.39L1081.37 2811.39 M689.49 2700.91L701.09 2700.91 M1092.97 2700.91L1081.37 2700.91 M689.49 2590.42L701.09 2590.42 M1092.97 2590.42L1081.37 2590.42 M1294.71 2908.00L1294.71 2896.40 M1294.71 2493.81L1294.71 2505.41 M1092.97 2811.39L1104.57 2811.39 M1496.46 2811.39L1484.86 2811.39 M1092.97 2700.91L1104.57 2700.91 M1496.46 2700.91L1484.86 2700.91 M1092.97 2590.42L1104.57 2590.42 M1496.46 2590.42L1484.86 2590.42 M1698.20 2908.00L1698.20 2896.40 M1698.20 2493.81L1698.20 2505.41 M1496.46 2811.39L1508.06 2811.39 M1899.94 2811.39L1888.34 2811.39 M1496.46 2700.91L1508.06 2700.91 M1899.94 2700.91L1888.34 2700.91 M1496.46 2590.42L1508.06 2590.42 M1899.94 2590.42L1888.34 2590.42 M1998.55 2908.00L1998.55 2896.40 M1998.55 2493.81L1998.55 2505.41 M2204.83 2908.00L2204.83 2896.40 M2204.83 2493.81L2204.83 2505.41 M1899.94 2811.39L1911.54 2811.39 M2303.43 2811.39L2291.83 2811.39 M1899.94 2700.91L1911.54 2700.91 M2303.43 2700.91L2291.83 2700.91 M1899.94 2590.42L1911.54 2590.42 M2303.43 2590.42L2291.83 2590.42 M2505.17 2908.00L2505.17 2896.40 M2505.17 2493.81L2505.17 2505.41 M2303.43 2811.39L2315.03 2811.39 M2706.91 2811.39L2695.31 2811.39 M2303.43 2700.91L2315.03 2700.91 M2706.91 2700.91L2695.31 2700.91 M2303.43 2590.42L2315.03 2590.42 M2706.91 2590.42L2695.31 2590.42 M2801.03 2908.00L2801.03 2896.40 M3016.29 2908.00L3016.29 2896.40" stroke="#000" stroke-width="3.20" fill="none"/>
<text x="381.92" y="2970.80" font-size="75.0">2</text><rect x="332.71" y="2951.55" width="44.70" height="3.30" rx="1.4"/>
<text x="583.16" y="2970.80" font-size="75.0">2</text>
<text x="854.42" y="2970.80" font-size="75.0">40</text>
<text x="1272.26" y="2970.80" font-size="75.0">1.3</text><rect x="1226.35" y="2951.55" width="44.70" height="3.30" rx="1.4"/>
<text x="1704.66" y="2970.80" font-size="75.0">1</text><rect x="1658.75" y="2951.55" width="44.70" height="3.30" rx="1.4"/>
<text x="1950.83" y="2970.80" font-size="75.0">0.4</text>
<text x="2157.64" y="2970.80" font-size="75.0">0.6</text>
<text x="2484.58" y="2970.80" font-size="75.0">0.5</text><rect x="2434.94" y="2951.55" width="44.70" height="3.30" rx="1.4"/>
<text x="2735.44" y="2970.80" font-size="75.0">0.45</text>
<text x="2950.70" y="2970.80" font-size="75.0">0.55</text>
<text x="106.99" y="791.70" font-size="75.0">39.92</text>
<text x="105.71" y="655.28" font-size="75.0">40.00</text>
<text x="105.71" y="518.85" font-size="75.0">40.08</text>
<text x="179.02" y="1193.44" font-size="75.0">1.4</text><rect x="133.11" y="1174.19" width="44.70" height="3.30" rx="1.4"/>
<text x="180.78" y="1069.46" font-size="75.0">1.3</text><rect x="134.87" y="1050.21" width="44.70" height="3.30" rx="1.4"/>
<text x="181.99" y="945.49" font-size="75.0">1.2</text><rect x="136.08" y="926.24" width="44.70" height="3.30" rx="1.4"/>
<text x="143.28" y="1627.84" font-size="75.0">1.15</text><rect x="97.37" y="1608.59" width="44.70" height="3.30" rx="1.4"/>
<text x="143.21" y="1483.65" font-size="75.0">1.00</text><rect x="97.30" y="1464.40" width="44.70" height="3.30" rx="1.4"/>
<text x="143.28" y="1339.46" font-size="75.0">0.85</text><rect x="93.64" y="1320.21" width="44.70" height="3.30" rx="1.4"/>
<text x="179.02" y="2003.71" font-size="75.0">0.4</text>
<text x="180.08" y="1791.96" font-size="75.0">0.6</text>
<text x="180.08" y="2383.63" font-size="75.0">0.6</text><rect x="130.44" y="2364.38" width="44.70" height="3.30" rx="1.4"/>
<text x="179.02" y="2240.41" font-size="75.0">0.4</text><rect x="129.38" y="2221.16" width="44.70" height="3.30" rx="1.4"/>
<text x="143.28" y="2836.69" font-size="75.0">0.45</text>
<text x="143.21" y="2726.21" font-size="75.0">0.50</text>
<text x="143.28" y="2615.72" font-size="75.0">0.55</text>
<g transform="translate(321.20 3071.70)"><text x="-1.94" y="0" font-size="74.7" transform="scale(1.11 1)">Γ</text><path d="M73.90 -54.90h10.60v3.60h-6.00v65.60h6.00v3.60h-10.60z"/><path d="M98.20 -34.50L130.70 -2.20M130.70 -34.50L98.20 -2.20" stroke="#000" stroke-width="2.9" stroke-linecap="butt" fill="none"/><text x="144.26" y="0.00" font-size="75.5">10</text><rect x="221.60" y="-41.60" width="31.70" height="2.80"/><text x="257.16" y="-25.30" font-size="55.5" stroke="#000" stroke-width="0.6">27</text><path d="M315.80 -54.90h10.60v72.80h-10.60v-3.60h6.00v-65.60h-6.00v-3.60z"/></g>
<g transform="translate(870.00 3071.70)"><text x="-3.14" y="0.00" font-size="71.4" font-style="italic">t</text><polygon points="31.40,-15.50 33.72,-4.59 44.81,-5.76 35.15,-0.18 39.69,10.01 31.40,2.55 23.11,10.01 27.65,-0.18 17.99,-5.76 29.08,-4.59"/></g>
<g transform="translate(1190.90 3071.70)"><text x="-1.46" y="0.00" font-size="73.0">log</text><text x="93.61" y="11.70" font-size="54.5" stroke="#000" stroke-width="0.6">10</text><path transform="translate(-10.90 -71.70) scale(0.12422)" d="M1609.5 209.5L1608.2 205.0L1606.3 200.4L1603.9 195.9L1601.0 191.6L1597.7 187.7L1593.9 184.0L1589.7 180.7L1585.2 177.7L1580.3 175.0L1575.0 172.8L1569.5 171.0L1563.8 169.6L1557.8 168.7L1551.6 168.3L1545.2 168.5L1538.7 169.2L1532.1 170.4L1525.5 172.2L1518.8 174.7L1512.2 177.8L1505.6 181.5L1499.2 185.8L1492.9 190.8L1486.7 196.5L1480.8 202.8L1475.2 209.8L1469.9 217.5L1464.9 225.8L1460.2 234.8L1455.9 244.4L1452.4 253.6L1449.0 263.1L1445.4 273.4L1441.8 284.5L1438.0 296.3L1434.1 308.7L1430.1 321.7L1426.1 335.2L1422.0 349.2L1417.8 363.5L1413.6 378.2L1409.4 393.1L1405.1 408.3L1400.9 423.5L1396.6 438.8L1392.4 454.2L1388.2 469.5L1384.0 484.6L1379.9 499.6L1375.9 514.3L1371.9 528.7L1368.0 542.7L1364.2 556.2L1360.6 569.2L1357.0 581.7L1353.6 593.5L1350.4 604.5L1347.3 614.8L1344.5 624.2L1341.7 632.9L1340.0 638.7L1338.5 643.6L1336.8 648.3L1335.1 652.6L1333.3 656.6L1331.4 660.2L1329.6 663.6L1327.7 666.7L1325.8 669.4L1324.0 671.9L1322.2 674.1L1320.4 676.0L1318.8 677.6L1317.2 679.0L1315.7 680.2L1314.4 681.1L1313.2 681.9L1312.0 682.6L1311.0 683.0L1309.9 683.4L1308.8 683.6L1307.7 683.7L1306.4 683.5L1305.1 683.0L1303.6 682.1L1302.1 680.8L1300.6 679.1L1299.2 676.9L1298.0 674.1L1296.9 670.7L1283.1 673.3L1283.5 677.5L1284.2 681.8L1285.2 685.9L1286.6 689.8L1288.4 693.5L1290.7 697.0L1293.4 700.1L1296.5 702.9L1300.0 705.3L1303.9 707.1L1308.0 708.4L1312.3 709.2L1316.8 709.4L1321.3 709.1L1325.8 708.3L1330.2 707.0L1334.7 705.3L1339.1 703.2L1343.4 700.6L1347.6 697.6L1351.7 694.2L1355.7 690.4L1359.6 686.3L1363.4 681.7L1367.0 676.8L1370.5 671.5L1373.8 665.8L1376.9 659.8L1379.8 653.4L1382.3 647.1L1385.7 638.5L1389.3 628.7L1393.0 618.2L1396.9 607.0L1400.8 595.0L1404.8 582.5L1408.9 569.3L1413.0 555.7L1417.2 541.6L1421.5 527.2L1425.8 512.5L1430.0 497.5L1434.3 482.3L1438.6 467.0L1442.9 451.7L1447.1 436.3L1451.3 421.0L1455.4 405.9L1459.5 391.0L1463.5 376.3L1467.4 362.0L1471.2 348.1L1474.9 334.6L1478.4 321.7L1481.8 309.3L1485.1 297.7L1488.2 286.7L1491.1 276.6L1493.8 267.4L1496.1 259.6L1498.9 251.9L1501.9 244.8L1505.1 238.4L1508.4 232.5L1511.8 227.2L1515.3 222.4L1518.9 218.0L1522.6 214.2L1526.3 210.7L1530.1 207.7L1533.9 205.1L1537.8 202.8L1541.7 200.9L1545.6 199.3L1549.5 198.0L1553.4 197.1L1557.3 196.5L1561.2 196.1L1565.0 196.1L1568.7 196.4L1572.3 197.0L1575.7 197.8L1579.1 198.9L1582.2 200.3L1585.2 202.0L1588.0 203.9L1590.5 206.1L1592.8 208.5L1594.7 211.2L1596.5 214.5ZM1553.0 214.0a32.0 32.0 0 1 0 64.0 0a32.0 32.0 0 1 0 -64.0 0ZM1285.0 664.0a29.0 29.0 0 1 0 58.0 0a29.0 29.0 0 1 0 -58.0 0ZM1395 320V347H1560V320Z"/><polygon points="195.00,-15.30 197.32,-4.39 208.41,-5.56 198.75,0.02 203.29,10.21 195.00,2.75 186.71,10.21 191.25,0.02 181.59,-5.56 192.68,-4.39"/></g>
<g transform="translate(1573.40 3071.70)"><text x="-1.46" y="0.00" font-size="73.0">log</text><text x="94.11" y="11.70" font-size="54.5" stroke="#000" stroke-width="0.6">10</text><path transform="translate(-11.50 -71.70) scale(0.12422)" d="M1609.5 209.5L1608.2 205.0L1606.3 200.4L1603.9 195.9L1601.0 191.6L1597.7 187.7L1593.9 184.0L1589.7 180.7L1585.2 177.7L1580.3 175.0L1575.0 172.8L1569.5 171.0L1563.8 169.6L1557.8 168.7L1551.6 168.3L1545.2 168.5L1538.7 169.2L1532.1 170.4L1525.5 172.2L1518.8 174.7L1512.2 177.8L1505.6 181.5L1499.2 185.8L1492.9 190.8L1486.7 196.5L1480.8 202.8L1475.2 209.8L1469.9 217.5L1464.9 225.8L1460.2 234.8L1455.9 244.4L1452.4 253.6L1449.0 263.1L1445.4 273.4L1441.8 284.5L1438.0 296.3L1434.1 308.7L1430.1 321.7L1426.1 335.2L1422.0 349.2L1417.8 363.5L1413.6 378.2L1409.4 393.1L1405.1 408.3L1400.9 423.5L1396.6 438.8L1392.4 454.2L1388.2 469.5L1384.0 484.6L1379.9 499.6L1375.9 514.3L1371.9 528.7L1368.0 542.7L1364.2 556.2L1360.6 569.2L1357.0 581.7L1353.6 593.5L1350.4 604.5L1347.3 614.8L1344.5 624.2L1341.7 632.9L1340.0 638.7L1338.5 643.6L1336.8 648.3L1335.1 652.6L1333.3 656.6L1331.4 660.2L1329.6 663.6L1327.7 666.7L1325.8 669.4L1324.0 671.9L1322.2 674.1L1320.4 676.0L1318.8 677.6L1317.2 679.0L1315.7 680.2L1314.4 681.1L1313.2 681.9L1312.0 682.6L1311.0 683.0L1309.9 683.4L1308.8 683.6L1307.7 683.7L1306.4 683.5L1305.1 683.0L1303.6 682.1L1302.1 680.8L1300.6 679.1L1299.2 676.9L1298.0 674.1L1296.9 670.7L1283.1 673.3L1283.5 677.5L1284.2 681.8L1285.2 685.9L1286.6 689.8L1288.4 693.5L1290.7 697.0L1293.4 700.1L1296.5 702.9L1300.0 705.3L1303.9 707.1L1308.0 708.4L1312.3 709.2L1316.8 709.4L1321.3 709.1L1325.8 708.3L1330.2 707.0L1334.7 705.3L1339.1 703.2L1343.4 700.6L1347.6 697.6L1351.7 694.2L1355.7 690.4L1359.6 686.3L1363.4 681.7L1367.0 676.8L1370.5 671.5L1373.8 665.8L1376.9 659.8L1379.8 653.4L1382.3 647.1L1385.7 638.5L1389.3 628.7L1393.0 618.2L1396.9 607.0L1400.8 595.0L1404.8 582.5L1408.9 569.3L1413.0 555.7L1417.2 541.6L1421.5 527.2L1425.8 512.5L1430.0 497.5L1434.3 482.3L1438.6 467.0L1442.9 451.7L1447.1 436.3L1451.3 421.0L1455.4 405.9L1459.5 391.0L1463.5 376.3L1467.4 362.0L1471.2 348.1L1474.9 334.6L1478.4 321.7L1481.8 309.3L1485.1 297.7L1488.2 286.7L1491.1 276.6L1493.8 267.4L1496.1 259.6L1498.9 251.9L1501.9 244.8L1505.1 238.4L1508.4 232.5L1511.8 227.2L1515.3 222.4L1518.9 218.0L1522.6 214.2L1526.3 210.7L1530.1 207.7L1533.9 205.1L1537.8 202.8L1541.7 200.9L1545.6 199.3L1549.5 198.0L1553.4 197.1L1557.3 196.5L1561.2 196.1L1565.0 196.1L1568.7 196.4L1572.3 197.0L1575.7 197.8L1579.1 198.9L1582.2 200.3L1585.2 202.0L1588.0 203.9L1590.5 206.1L1592.8 208.5L1594.7 211.2L1596.5 214.5ZM1553.0 214.0a32.0 32.0 0 1 0 64.0 0a32.0 32.0 0 1 0 -64.0 0ZM1285.0 664.0a29.0 29.0 0 1 0 58.0 0a29.0 29.0 0 1 0 -58.0 0ZM1395 320V347H1560V320Z"/><text x="180.87" y="11.60" font-size="54.5" stroke="#000" stroke-width="0.6">esc</text></g>
<g transform="translate(1991.40 3071.70)"><text x="-1.46" y="0.00" font-size="73.0">log</text><text x="93.51" y="11.70" font-size="54.5" stroke="#000" stroke-width="0.6">10</text><text x="148.98" y="0.00" font-size="74.7" font-style="italic">L</text><text x="188.92" y="11.70" font-size="54.7" font-style="italic" stroke="#000" stroke-width="0.6">X</text></g>
<g transform="translate(2474.20 3071.70)"><text x="-2.14" y="0.00" font-size="72.0" font-style="italic">a</text><polygon points="49.20,-15.50 51.52,-4.59 62.61,-5.76 52.95,-0.18 57.49,10.01 49.20,2.55 40.91,10.01 45.45,-0.18 35.79,-5.76 46.88,-4.59"/></g>
<g transform="translate(2856.70 3071.70)"><text x="-2.14" y="0.00" font-size="72.0" font-style="italic">a</text><text x="34.77" y="11.40" font-size="54.5" stroke="#000" stroke-width="0.6">esc</text></g>
<g transform="translate(79.70 649.50) rotate(-90)"><text x="-3.14" y="0.00" font-size="71.4" font-style="italic">t</text><polygon points="31.40,-15.50 33.72,-4.59 44.81,-5.76 35.15,-0.18 39.69,10.01 31.40,2.55 23.11,10.01 27.65,-0.18 17.99,-5.76 29.08,-4.59"/></g>
<g transform="translate(94.70 1147.70) rotate(-90)"><text x="-1.46" y="0.00" font-size="73.0">log</text><text x="93.61" y="11.70" font-size="54.5" stroke="#000" stroke-width="0.6">10</text><path transform="translate(-10.90 -71.70) scale(0.12422)" d="M1609.5 209.5L1608.2 205.0L1606.3 200.4L1603.9 195.9L1601.0 191.6L1597.7 187.7L1593.9 184.0L1589.7 180.7L1585.2 177.7L1580.3 175.0L1575.0 172.8L1569.5 171.0L1563.8 169.6L1557.8 168.7L1551.6 168.3L1545.2 168.5L1538.7 169.2L1532.1 170.4L1525.5 172.2L1518.8 174.7L1512.2 177.8L1505.6 181.5L1499.2 185.8L1492.9 190.8L1486.7 196.5L1480.8 202.8L1475.2 209.8L1469.9 217.5L1464.9 225.8L1460.2 234.8L1455.9 244.4L1452.4 253.6L1449.0 263.1L1445.4 273.4L1441.8 284.5L1438.0 296.3L1434.1 308.7L1430.1 321.7L1426.1 335.2L1422.0 349.2L1417.8 363.5L1413.6 378.2L1409.4 393.1L1405.1 408.3L1400.9 423.5L1396.6 438.8L1392.4 454.2L1388.2 469.5L1384.0 484.6L1379.9 499.6L1375.9 514.3L1371.9 528.7L1368.0 542.7L1364.2 556.2L1360.6 569.2L1357.0 581.7L1353.6 593.5L1350.4 604.5L1347.3 614.8L1344.5 624.2L1341.7 632.9L1340.0 638.7L1338.5 643.6L1336.8 648.3L1335.1 652.6L1333.3 656.6L1331.4 660.2L1329.6 663.6L1327.7 666.7L1325.8 669.4L1324.0 671.9L1322.2 674.1L1320.4 676.0L1318.8 677.6L1317.2 679.0L1315.7 680.2L1314.4 681.1L1313.2 681.9L1312.0 682.6L1311.0 683.0L1309.9 683.4L1308.8 683.6L1307.7 683.7L1306.4 683.5L1305.1 683.0L1303.6 682.1L1302.1 680.8L1300.6 679.1L1299.2 676.9L1298.0 674.1L1296.9 670.7L1283.1 673.3L1283.5 677.5L1284.2 681.8L1285.2 685.9L1286.6 689.8L1288.4 693.5L1290.7 697.0L1293.4 700.1L1296.5 702.9L1300.0 705.3L1303.9 707.1L1308.0 708.4L1312.3 709.2L1316.8 709.4L1321.3 709.1L1325.8 708.3L1330.2 707.0L1334.7 705.3L1339.1 703.2L1343.4 700.6L1347.6 697.6L1351.7 694.2L1355.7 690.4L1359.6 686.3L1363.4 681.7L1367.0 676.8L1370.5 671.5L1373.8 665.8L1376.9 659.8L1379.8 653.4L1382.3 647.1L1385.7 638.5L1389.3 628.7L1393.0 618.2L1396.9 607.0L1400.8 595.0L1404.8 582.5L1408.9 569.3L1413.0 555.7L1417.2 541.6L1421.5 527.2L1425.8 512.5L1430.0 497.5L1434.3 482.3L1438.6 467.0L1442.9 451.7L1447.1 436.3L1451.3 421.0L1455.4 405.9L1459.5 391.0L1463.5 376.3L1467.4 362.0L1471.2 348.1L1474.9 334.6L1478.4 321.7L1481.8 309.3L1485.1 297.7L1488.2 286.7L1491.1 276.6L1493.8 267.4L1496.1 259.6L1498.9 251.9L1501.9 244.8L1505.1 238.4L1508.4 232.5L1511.8 227.2L1515.3 222.4L1518.9 218.0L1522.6 214.2L1526.3 210.7L1530.1 207.7L1533.9 205.1L1537.8 202.8L1541.7 200.9L1545.6 199.3L1549.5 198.0L1553.4 197.1L1557.3 196.5L1561.2 196.1L1565.0 196.1L1568.7 196.4L1572.3 197.0L1575.7 197.8L1579.1 198.9L1582.2 200.3L1585.2 202.0L1588.0 203.9L1590.5 206.1L1592.8 208.5L1594.7 211.2L1596.5 214.5ZM1553.0 214.0a32.0 32.0 0 1 0 64.0 0a32.0 32.0 0 1 0 -64.0 0ZM1285.0 664.0a29.0 29.0 0 1 0 58.0 0a29.0 29.0 0 1 0 -58.0 0ZM1395 320V347H1560V320Z"/><polygon points="195.00,-15.30 197.32,-4.39 208.41,-5.56 198.75,0.02 203.29,10.21 195.00,2.75 186.71,10.21 191.25,0.02 181.59,-5.56 192.68,-4.39"/></g>
<g transform="translate(57.70 1583.00) rotate(-90)"><text x="-1.46" y="0.00" font-size="73.0">log</text><text x="94.11" y="11.70" font-size="54.5" stroke="#000" stroke-width="0.6">10</text><path transform="translate(-11.50 -71.70) scale(0.12422)" d="M1609.5 209.5L1608.2 205.0L1606.3 200.4L1603.9 195.9L1601.0 191.6L1597.7 187.7L1593.9 184.0L1589.7 180.7L1585.2 177.7L1580.3 175.0L1575.0 172.8L1569.5 171.0L1563.8 169.6L1557.8 168.7L1551.6 168.3L1545.2 168.5L1538.7 169.2L1532.1 170.4L1525.5 172.2L1518.8 174.7L1512.2 177.8L1505.6 181.5L1499.2 185.8L1492.9 190.8L1486.7 196.5L1480.8 202.8L1475.2 209.8L1469.9 217.5L1464.9 225.8L1460.2 234.8L1455.9 244.4L1452.4 253.6L1449.0 263.1L1445.4 273.4L1441.8 284.5L1438.0 296.3L1434.1 308.7L1430.1 321.7L1426.1 335.2L1422.0 349.2L1417.8 363.5L1413.6 378.2L1409.4 393.1L1405.1 408.3L1400.9 423.5L1396.6 438.8L1392.4 454.2L1388.2 469.5L1384.0 484.6L1379.9 499.6L1375.9 514.3L1371.9 528.7L1368.0 542.7L1364.2 556.2L1360.6 569.2L1357.0 581.7L1353.6 593.5L1350.4 604.5L1347.3 614.8L1344.5 624.2L1341.7 632.9L1340.0 638.7L1338.5 643.6L1336.8 648.3L1335.1 652.6L1333.3 656.6L1331.4 660.2L1329.6 663.6L1327.7 666.7L1325.8 669.4L1324.0 671.9L1322.2 674.1L1320.4 676.0L1318.8 677.6L1317.2 679.0L1315.7 680.2L1314.4 681.1L1313.2 681.9L1312.0 682.6L1311.0 683.0L1309.9 683.4L1308.8 683.6L1307.7 683.7L1306.4 683.5L1305.1 683.0L1303.6 682.1L1302.1 680.8L1300.6 679.1L1299.2 676.9L1298.0 674.1L1296.9 670.7L1283.1 673.3L1283.5 677.5L1284.2 681.8L1285.2 685.9L1286.6 689.8L1288.4 693.5L1290.7 697.0L1293.4 700.1L1296.5 702.9L1300.0 705.3L1303.9 707.1L1308.0 708.4L1312.3 709.2L1316.8 709.4L1321.3 709.1L1325.8 708.3L1330.2 707.0L1334.7 705.3L1339.1 703.2L1343.4 700.6L1347.6 697.6L1351.7 694.2L1355.7 690.4L1359.6 686.3L1363.4 681.7L1367.0 676.8L1370.5 671.5L1373.8 665.8L1376.9 659.8L1379.8 653.4L1382.3 647.1L1385.7 638.5L1389.3 628.7L1393.0 618.2L1396.9 607.0L1400.8 595.0L1404.8 582.5L1408.9 569.3L1413.0 555.7L1417.2 541.6L1421.5 527.2L1425.8 512.5L1430.0 497.5L1434.3 482.3L1438.6 467.0L1442.9 451.7L1447.1 436.3L1451.3 421.0L1455.4 405.9L1459.5 391.0L1463.5 376.3L1467.4 362.0L1471.2 348.1L1474.9 334.6L1478.4 321.7L1481.8 309.3L1485.1 297.7L1488.2 286.7L1491.1 276.6L1493.8 267.4L1496.1 259.6L1498.9 251.9L1501.9 244.8L1505.1 238.4L1508.4 232.5L1511.8 227.2L1515.3 222.4L1518.9 218.0L1522.6 214.2L1526.3 210.7L1530.1 207.7L1533.9 205.1L1537.8 202.8L1541.7 200.9L1545.6 199.3L1549.5 198.0L1553.4 197.1L1557.3 196.5L1561.2 196.1L1565.0 196.1L1568.7 196.4L1572.3 197.0L1575.7 197.8L1579.1 198.9L1582.2 200.3L1585.2 202.0L1588.0 203.9L1590.5 206.1L1592.8 208.5L1594.7 211.2L1596.5 214.5ZM1553.0 214.0a32.0 32.0 0 1 0 64.0 0a32.0 32.0 0 1 0 -64.0 0ZM1285.0 664.0a29.0 29.0 0 1 0 58.0 0a29.0 29.0 0 1 0 -58.0 0ZM1395 320V347H1560V320Z"/><text x="180.87" y="11.60" font-size="54.5" stroke="#000" stroke-width="0.6">esc</text></g>
<g transform="translate(151.60 1983.00) rotate(-90)"><text x="-1.46" y="0.00" font-size="73.0">log</text><text x="93.51" y="11.70" font-size="54.5" stroke="#000" stroke-width="0.6">10</text><text x="148.98" y="0.00" font-size="74.7" font-style="italic">L</text><text x="188.92" y="11.70" font-size="54.7" font-style="italic" stroke="#000" stroke-width="0.6">X</text></g>
<g transform="translate(96.00 2317.60) rotate(-90)"><text x="-2.14" y="0.00" font-size="72.0" font-style="italic">a</text><polygon points="49.20,-15.50 51.52,-4.59 62.61,-5.76 52.95,-0.18 57.49,10.01 49.20,2.55 40.91,10.01 45.45,-0.18 35.79,-5.76 46.88,-4.59"/></g>
<g transform="translate(115.90 2752.80) rotate(-90)"><text x="-2.14" y="0.00" font-size="72.0" font-style="italic">a</text><text x="34.77" y="11.40" font-size="54.5" stroke="#000" stroke-width="0.6">esc</text></g>
<rect x="2241.9" y="185.7" width="696.8" height="236.6" fill="#fff" stroke="#000" stroke-width="7.1"/>
<path transform="translate(2315 205) scale(0.04689)" d="M345 590C400 400 500 210 640 210C780 210 830 330 845 480C860 640 865 900 875 1100C890 1350 900 1550 1040 1560C1150 1560 1220 1450 1260 1360L1300 1360C1250 1560 1150 1755 980 1755C820 1755 795 1600 790 1400C780 1100 770 800 750 560C740 440 690 380 600 380C500 380 430 480 400 590ZM1200 240L1430 240L400 1720L160 1720Z"/>
<path transform="translate(2520 200) scale(0.08282)" d="M215 410C240 280 300 178 380 178C460 178 490 280 497 420L500 590L700 195L830 195L497 735C495 850 490 960 450 1030C430 1060 400 1068 378 1068C345 1068 325 1040 330 1000C335 930 400 830 448 740C450 600 445 420 420 350C400 300 375 280 350 280C290 280 255 340 243 410Z"/>
<path transform="translate(2569.3 200) scale(0.08282)" d="M215 410C240 280 300 178 380 178C460 178 490 280 497 420L500 590L700 195L830 195L497 735C495 850 490 960 450 1030C430 1060 400 1068 378 1068C345 1068 325 1040 330 1000C335 930 400 830 448 740C450 600 445 420 420 350C400 300 375 280 350 280C290 280 255 340 243 410Z"/>
<path d="M2415.9 241H2501" stroke="#000" stroke-width="3.4" fill="none"/>
<path d="M2479.1 215.4Q2484 240 2503.9 241Q2484 242 2479.1 266.6" stroke="#000" stroke-width="3.4" fill="none" stroke-linecap="round" stroke-linejoin="round"/>
<text x="2271.29" y="359.20" font-size="100.5">m</text>
<path transform="translate(2344.25 329.01) scale(0.03470)" d="M345 590C400 400 500 210 640 210C780 210 830 330 845 480C860 640 865 900 875 1100C890 1350 900 1550 1040 1560C1150 1560 1220 1450 1260 1360L1300 1360C1250 1560 1150 1755 980 1755C820 1755 795 1600 790 1400C780 1100 770 800 750 560C740 440 690 380 600 380C500 380 430 480 400 590ZM1200 240L1430 240L400 1720L160 1720Z"/>
<rect x="2427.2" y="324.0" width="66.8" height="4.4"/>
<rect x="2427.2" y="340.7" width="66.8" height="4.4"/>
<text x="2524.13" y="359.20" font-size="98.6">100</text>
<text x="2701.32" y="359.20" font-size="99.8">MeV</text>
</svg></body></html>
